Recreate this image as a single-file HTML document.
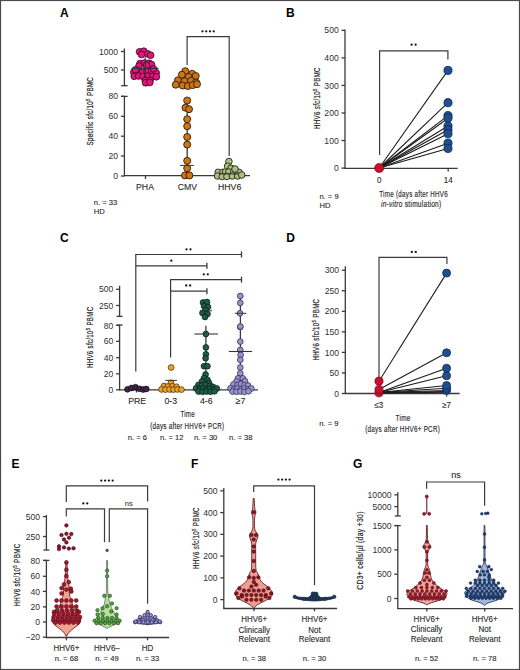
<!DOCTYPE html><html><head><meta charset="utf-8"><style>html,body{margin:0;padding:0;background:#fff;width:520px;height:670px;overflow:hidden}svg{display:block;font-family:"Liberation Sans",sans-serif}</style></head><body><svg width="520" height="670" viewBox="0 0 520 670" font-family="Liberation Sans, sans-serif">
<rect x="0" y="0" width="520" height="670" fill="#fff"/>
<rect x="0.5" y="0.5" width="519" height="669" fill="none" stroke="#4a4a4a" stroke-width="1.2"/>
<text transform="translate(64.35,16.57) scale(1.0,1)" font-size="12" text-anchor="middle" fill="#000" stroke="#000" stroke-width="0.0" font-weight="bold">A</text>
<line x1="124.40" y1="48.50" x2="124.40" y2="85.70" stroke="#3a3a3a" stroke-width="1.3"/>
<line x1="121.20" y1="85.70" x2="127.60" y2="85.70" stroke="#3a3a3a" stroke-width="1.3"/>
<line x1="124.40" y1="96.40" x2="124.40" y2="176.30" stroke="#3a3a3a" stroke-width="1.3"/>
<line x1="123.90" y1="175.70" x2="250.00" y2="175.70" stroke="#3a3a3a" stroke-width="1.3"/>
<line x1="120.90" y1="51.50" x2="124.40" y2="51.50" stroke="#3a3a3a" stroke-width="1.3"/>
<text transform="translate(118.10,54.60) scale(1.0,1)" font-size="8.6" text-anchor="end" fill="#2f2f2f" stroke="#2f2f2f" stroke-width="0.0">1000</text>
<line x1="120.90" y1="70.00" x2="124.40" y2="70.00" stroke="#3a3a3a" stroke-width="1.3"/>
<text transform="translate(118.10,73.10) scale(1.0,1)" font-size="8.6" text-anchor="end" fill="#2f2f2f" stroke="#2f2f2f" stroke-width="0.0">500</text>
<line x1="121.20" y1="96.40" x2="127.60" y2="96.40" stroke="#3a3a3a" stroke-width="1.3"/>
<line x1="120.90" y1="96.30" x2="124.40" y2="96.30" stroke="#3a3a3a" stroke-width="1.3"/>
<text transform="translate(118.10,99.40) scale(1.0,1)" font-size="8.6" text-anchor="end" fill="#2f2f2f" stroke="#2f2f2f" stroke-width="0.0">80</text>
<line x1="120.90" y1="116.30" x2="124.40" y2="116.30" stroke="#3a3a3a" stroke-width="1.3"/>
<text transform="translate(118.10,119.40) scale(1.0,1)" font-size="8.6" text-anchor="end" fill="#2f2f2f" stroke="#2f2f2f" stroke-width="0.0">60</text>
<line x1="120.90" y1="136.20" x2="124.40" y2="136.20" stroke="#3a3a3a" stroke-width="1.3"/>
<text transform="translate(118.10,139.30) scale(1.0,1)" font-size="8.6" text-anchor="end" fill="#2f2f2f" stroke="#2f2f2f" stroke-width="0.0">40</text>
<line x1="120.90" y1="156.00" x2="124.40" y2="156.00" stroke="#3a3a3a" stroke-width="1.3"/>
<text transform="translate(118.10,159.10) scale(1.0,1)" font-size="8.6" text-anchor="end" fill="#2f2f2f" stroke="#2f2f2f" stroke-width="0.0">20</text>
<line x1="120.90" y1="176.00" x2="124.40" y2="176.00" stroke="#3a3a3a" stroke-width="1.3"/>
<text transform="translate(118.10,179.10) scale(1.0,1)" font-size="8.6" text-anchor="end" fill="#2f2f2f" stroke="#2f2f2f" stroke-width="0.0">0</text>
<line x1="145.50" y1="176.00" x2="145.50" y2="179.00" stroke="#3a3a3a" stroke-width="1.3"/>
<line x1="187.20" y1="176.00" x2="187.20" y2="179.00" stroke="#3a3a3a" stroke-width="1.3"/>
<line x1="229.20" y1="176.00" x2="229.20" y2="179.00" stroke="#3a3a3a" stroke-width="1.3"/>
<text transform="translate(145.00,190.08) scale(0.96,1)" font-size="9.1" text-anchor="middle" fill="#2a2a2a" stroke="#2a2a2a" stroke-width="0.12">PHA</text>
<text transform="translate(187.40,190.08) scale(0.96,1)" font-size="9.1" text-anchor="middle" fill="#2a2a2a" stroke="#2a2a2a" stroke-width="0.12">CMV</text>
<text transform="translate(229.60,190.08) scale(0.96,1)" font-size="9.1" text-anchor="middle" fill="#2a2a2a" stroke="#2a2a2a" stroke-width="0.12">HHV6</text>
<text transform="translate(93.43,111.20) rotate(-90) scale(0.711,1)" font-size="8.7" letter-spacing="0.45" text-anchor="middle" fill="#2a2a2a" stroke="#2a2a2a" stroke-width="0.22"><tspan>Specific sfc/10</tspan><tspan font-size="6.26" dy="-2.96">5</tspan><tspan dy="2.96"> PBMC</tspan></text>
<text transform="translate(93.80,205.24) scale(1.0,1)" font-size="7.6" text-anchor="start" fill="#2a2a2a" stroke="#2a2a2a" stroke-width="0.12">n. = 33</text>
<text transform="translate(93.80,213.94) scale(1.0,1)" font-size="7.6" text-anchor="start" fill="#2a2a2a" stroke="#2a2a2a" stroke-width="0.12">HD</text>
<polyline points="187.10,65.00 187.10,36.70 229.20,36.70 229.20,156.00" fill="none" stroke="#3a3a3a" stroke-width="1.2" stroke-linejoin="miter"/>
<circle cx="202.47" cy="31.30" r="1.15" fill="#151515"/>
<circle cx="206.22" cy="31.30" r="1.15" fill="#151515"/>
<circle cx="209.97" cy="31.30" r="1.15" fill="#151515"/>
<circle cx="213.72" cy="31.30" r="1.15" fill="#151515"/>
<circle cx="139.50" cy="51.80" r="3.35" fill="#e0167c" stroke="#3a0520" stroke-width="0.8"/>
<circle cx="143.80" cy="51.20" r="3.35" fill="#e0167c" stroke="#3a0520" stroke-width="0.8"/>
<circle cx="147.80" cy="53.80" r="3.35" fill="#e0167c" stroke="#3a0520" stroke-width="0.8"/>
<circle cx="150.60" cy="55.20" r="3.35" fill="#e0167c" stroke="#3a0520" stroke-width="0.8"/>
<circle cx="141.50" cy="54.50" r="3.35" fill="#e0167c" stroke="#3a0520" stroke-width="0.8"/>
<circle cx="140.00" cy="63.50" r="3.35" fill="#e0167c" stroke="#3a0520" stroke-width="0.8"/>
<circle cx="144.50" cy="63.00" r="3.35" fill="#e0167c" stroke="#3a0520" stroke-width="0.8"/>
<circle cx="149.00" cy="63.20" r="3.35" fill="#e0167c" stroke="#3a0520" stroke-width="0.8"/>
<circle cx="151.50" cy="64.50" r="3.35" fill="#e0167c" stroke="#3a0520" stroke-width="0.8"/>
<circle cx="139.00" cy="66.00" r="3.35" fill="#e0167c" stroke="#3a0520" stroke-width="0.8"/>
<circle cx="146.50" cy="65.50" r="3.35" fill="#e0167c" stroke="#3a0520" stroke-width="0.8"/>
<circle cx="133.80" cy="72.30" r="3.35" fill="#e0167c" stroke="#3a0520" stroke-width="0.8"/>
<circle cx="138.20" cy="71.00" r="3.35" fill="#e0167c" stroke="#3a0520" stroke-width="0.8"/>
<circle cx="142.60" cy="72.00" r="3.35" fill="#e0167c" stroke="#3a0520" stroke-width="0.8"/>
<circle cx="147.20" cy="71.30" r="3.35" fill="#e0167c" stroke="#3a0520" stroke-width="0.8"/>
<circle cx="151.70" cy="71.00" r="3.35" fill="#e0167c" stroke="#3a0520" stroke-width="0.8"/>
<circle cx="156.20" cy="72.80" r="3.35" fill="#e0167c" stroke="#3a0520" stroke-width="0.8"/>
<circle cx="135.50" cy="69.80" r="3.35" fill="#e0167c" stroke="#3a0520" stroke-width="0.8"/>
<circle cx="153.50" cy="68.80" r="3.35" fill="#e0167c" stroke="#3a0520" stroke-width="0.8"/>
<circle cx="134.20" cy="76.30" r="3.35" fill="#e0167c" stroke="#3a0520" stroke-width="0.8"/>
<circle cx="138.60" cy="76.00" r="3.35" fill="#e0167c" stroke="#3a0520" stroke-width="0.8"/>
<circle cx="143.10" cy="76.50" r="3.35" fill="#e0167c" stroke="#3a0520" stroke-width="0.8"/>
<circle cx="148.00" cy="76.00" r="3.35" fill="#e0167c" stroke="#3a0520" stroke-width="0.8"/>
<circle cx="152.60" cy="76.40" r="3.35" fill="#e0167c" stroke="#3a0520" stroke-width="0.8"/>
<circle cx="156.40" cy="76.80" r="3.35" fill="#e0167c" stroke="#3a0520" stroke-width="0.8"/>
<circle cx="145.30" cy="80.50" r="3.35" fill="#e0167c" stroke="#3a0520" stroke-width="0.8"/>
<circle cx="150.00" cy="80.50" r="3.35" fill="#e0167c" stroke="#3a0520" stroke-width="0.8"/>
<circle cx="145.50" cy="82.80" r="3.35" fill="#e0167c" stroke="#3a0520" stroke-width="0.8"/>
<circle cx="149.80" cy="82.50" r="3.35" fill="#e0167c" stroke="#3a0520" stroke-width="0.8"/>
<line x1="131.40" y1="68.40" x2="158.60" y2="68.40" stroke="#333" stroke-width="1.1"/>
<line x1="145.20" y1="57.00" x2="145.20" y2="78.00" stroke="#333" stroke-width="1.1"/>
<circle cx="185.30" cy="71.20" r="3.5" fill="#cc7619" stroke="#2e1a04" stroke-width="0.9"/>
<circle cx="181.90" cy="74.70" r="3.5" fill="#cc7619" stroke="#2e1a04" stroke-width="0.9"/>
<circle cx="192.20" cy="73.80" r="3.5" fill="#cc7619" stroke="#2e1a04" stroke-width="0.9"/>
<circle cx="195.70" cy="76.00" r="3.5" fill="#cc7619" stroke="#2e1a04" stroke-width="0.9"/>
<circle cx="188.50" cy="77.00" r="3.5" fill="#cc7619" stroke="#2e1a04" stroke-width="0.9"/>
<circle cx="178.00" cy="80.30" r="3.5" fill="#cc7619" stroke="#2e1a04" stroke-width="0.9"/>
<circle cx="184.50" cy="81.20" r="3.5" fill="#cc7619" stroke="#2e1a04" stroke-width="0.9"/>
<circle cx="191.00" cy="80.80" r="3.5" fill="#cc7619" stroke="#2e1a04" stroke-width="0.9"/>
<circle cx="196.10" cy="82.50" r="3.5" fill="#cc7619" stroke="#2e1a04" stroke-width="0.9"/>
<circle cx="175.80" cy="84.70" r="3.5" fill="#cc7619" stroke="#2e1a04" stroke-width="0.9"/>
<circle cx="182.70" cy="85.50" r="3.5" fill="#cc7619" stroke="#2e1a04" stroke-width="0.9"/>
<circle cx="187.80" cy="86.00" r="3.5" fill="#cc7619" stroke="#2e1a04" stroke-width="0.9"/>
<circle cx="192.70" cy="85.10" r="3.5" fill="#cc7619" stroke="#2e1a04" stroke-width="0.9"/>
<circle cx="197.00" cy="84.20" r="3.5" fill="#cc7619" stroke="#2e1a04" stroke-width="0.9"/>
<line x1="187.20" y1="100.00" x2="187.20" y2="176.00" stroke="#3a3a3a" stroke-width="1.3"/>
<circle cx="187.20" cy="100.50" r="3.5" fill="#cc7619" stroke="#2e1a04" stroke-width="0.9"/>
<circle cx="185.50" cy="107.70" r="3.5" fill="#cc7619" stroke="#2e1a04" stroke-width="0.9"/>
<circle cx="189.00" cy="109.20" r="3.5" fill="#cc7619" stroke="#2e1a04" stroke-width="0.9"/>
<circle cx="187.20" cy="119.20" r="3.5" fill="#cc7619" stroke="#2e1a04" stroke-width="0.9"/>
<circle cx="187.20" cy="126.20" r="3.5" fill="#cc7619" stroke="#2e1a04" stroke-width="0.9"/>
<circle cx="187.20" cy="137.00" r="3.5" fill="#cc7619" stroke="#2e1a04" stroke-width="0.9"/>
<circle cx="187.20" cy="144.60" r="3.5" fill="#cc7619" stroke="#2e1a04" stroke-width="0.9"/>
<circle cx="187.20" cy="160.80" r="3.5" fill="#cc7619" stroke="#2e1a04" stroke-width="0.9"/>
<circle cx="187.20" cy="168.20" r="3.5" fill="#cc7619" stroke="#2e1a04" stroke-width="0.9"/>
<circle cx="185.00" cy="175.40" r="3.5" fill="#cc7619" stroke="#2e1a04" stroke-width="0.9"/>
<circle cx="189.40" cy="175.40" r="3.5" fill="#cc7619" stroke="#2e1a04" stroke-width="0.9"/>
<line x1="180.00" y1="165.40" x2="193.80" y2="165.40" stroke="#333" stroke-width="1.0"/>
<circle cx="228.90" cy="161.50" r="3.3" fill="#aebf86" stroke="#1e2812" stroke-width="0.9"/>
<circle cx="227.60" cy="166.20" r="3.3" fill="#aebf86" stroke="#1e2812" stroke-width="0.9"/>
<circle cx="231.00" cy="168.30" r="3.3" fill="#aebf86" stroke="#1e2812" stroke-width="0.9"/>
<circle cx="218.20" cy="172.30" r="3.3" fill="#aebf86" stroke="#1e2812" stroke-width="0.9"/>
<circle cx="222.90" cy="172.30" r="3.3" fill="#aebf86" stroke="#1e2812" stroke-width="0.9"/>
<circle cx="225.60" cy="172.00" r="3.3" fill="#aebf86" stroke="#1e2812" stroke-width="0.9"/>
<circle cx="228.90" cy="172.00" r="3.3" fill="#aebf86" stroke="#1e2812" stroke-width="0.9"/>
<circle cx="233.60" cy="172.00" r="3.3" fill="#aebf86" stroke="#1e2812" stroke-width="0.9"/>
<circle cx="239.00" cy="172.30" r="3.3" fill="#aebf86" stroke="#1e2812" stroke-width="0.9"/>
<circle cx="217.50" cy="176.00" r="3.3" fill="#aebf86" stroke="#1e2812" stroke-width="0.9"/>
<circle cx="222.20" cy="176.50" r="3.3" fill="#aebf86" stroke="#1e2812" stroke-width="0.9"/>
<circle cx="226.90" cy="176.50" r="3.3" fill="#aebf86" stroke="#1e2812" stroke-width="0.9"/>
<circle cx="232.30" cy="176.00" r="3.3" fill="#aebf86" stroke="#1e2812" stroke-width="0.9"/>
<circle cx="237.70" cy="176.00" r="3.3" fill="#aebf86" stroke="#1e2812" stroke-width="0.9"/>
<circle cx="241.70" cy="175.00" r="3.3" fill="#aebf86" stroke="#1e2812" stroke-width="0.9"/>
<circle cx="235.00" cy="169.00" r="3.3" fill="#aebf86" stroke="#1e2812" stroke-width="0.9"/>
<line x1="220.00" y1="174.00" x2="238.00" y2="174.00" stroke="#333" stroke-width="0.9"/>
<text transform="translate(290.30,16.57) scale(1.0,1)" font-size="12" text-anchor="middle" fill="#000" stroke="#000" stroke-width="0.0" font-weight="bold">B</text>
<line x1="345.00" y1="29.50" x2="345.00" y2="168.50" stroke="#3a3a3a" stroke-width="1.3"/>
<line x1="344.50" y1="168.30" x2="457.70" y2="168.30" stroke="#3a3a3a" stroke-width="1.3"/>
<line x1="341.50" y1="30.30" x2="345.00" y2="30.30" stroke="#3a3a3a" stroke-width="1.3"/>
<text transform="translate(338.70,33.40) scale(1.0,1)" font-size="8.6" text-anchor="end" fill="#2f2f2f" stroke="#2f2f2f" stroke-width="0.0">500</text>
<line x1="341.50" y1="57.86" x2="345.00" y2="57.86" stroke="#3a3a3a" stroke-width="1.3"/>
<text transform="translate(338.70,60.96) scale(1.0,1)" font-size="8.6" text-anchor="end" fill="#2f2f2f" stroke="#2f2f2f" stroke-width="0.0">400</text>
<line x1="341.50" y1="85.42" x2="345.00" y2="85.42" stroke="#3a3a3a" stroke-width="1.3"/>
<text transform="translate(338.70,88.52) scale(1.0,1)" font-size="8.6" text-anchor="end" fill="#2f2f2f" stroke="#2f2f2f" stroke-width="0.0">300</text>
<line x1="341.50" y1="112.98" x2="345.00" y2="112.98" stroke="#3a3a3a" stroke-width="1.3"/>
<text transform="translate(338.70,116.08) scale(1.0,1)" font-size="8.6" text-anchor="end" fill="#2f2f2f" stroke="#2f2f2f" stroke-width="0.0">200</text>
<line x1="341.50" y1="140.54" x2="345.00" y2="140.54" stroke="#3a3a3a" stroke-width="1.3"/>
<text transform="translate(338.70,143.64) scale(1.0,1)" font-size="8.6" text-anchor="end" fill="#2f2f2f" stroke="#2f2f2f" stroke-width="0.0">100</text>
<line x1="341.50" y1="168.10" x2="345.00" y2="168.10" stroke="#3a3a3a" stroke-width="1.3"/>
<text transform="translate(338.70,171.20) scale(1.0,1)" font-size="8.6" text-anchor="end" fill="#2f2f2f" stroke="#2f2f2f" stroke-width="0.0">0</text>
<line x1="379.20" y1="168.00" x2="379.20" y2="171.50" stroke="#3a3a3a" stroke-width="1.3"/>
<line x1="448.20" y1="168.00" x2="448.20" y2="171.50" stroke="#3a3a3a" stroke-width="1.3"/>
<text transform="translate(379.20,183.10) scale(0.93,1)" font-size="8.6" text-anchor="middle" fill="#2a2a2a" stroke="#2a2a2a" stroke-width="0.12">0</text>
<text transform="translate(448.20,183.10) scale(0.93,1)" font-size="8.6" text-anchor="middle" fill="#2a2a2a" stroke="#2a2a2a" stroke-width="0.12">14</text>
<text transform="translate(319.83,98.00) rotate(-90) scale(0.707,1)" font-size="8.7" letter-spacing="0.45" text-anchor="middle" fill="#2a2a2a" stroke="#2a2a2a" stroke-width="0.22"><tspan>HHV6 </tspan><tspan font-style="italic">sfc</tspan><tspan>/10</tspan><tspan font-size="6.26" dy="-2.96">5</tspan><tspan dy="2.96"> PBMC</tspan></text>
<text transform="translate(413.63,197.08) scale(0.664,1)" font-size="9.4" letter-spacing="0.4" text-anchor="middle" fill="#2a2a2a" stroke="#2a2a2a" stroke-width="0.18">Time (days after HHV6</text>
<text transform="translate(411.2,207.08) scale(0.695,1)" font-size="9.4" letter-spacing="0.4" text-anchor="middle" fill="#2a2a2a" stroke="#2a2a2a" stroke-width="0.18"><tspan font-style="italic">in-vitro</tspan> stimulation)</text>
<text transform="translate(319.40,199.24) scale(1.0,1)" font-size="7.6" text-anchor="start" fill="#2a2a2a" stroke="#2a2a2a" stroke-width="0.12">n. = 9</text>
<text transform="translate(319.40,208.24) scale(1.0,1)" font-size="7.6" text-anchor="start" fill="#2a2a2a" stroke="#2a2a2a" stroke-width="0.12">HD</text>
<polyline points="379.60,155.00 379.60,50.80 447.90,50.80 447.90,59.40" fill="none" stroke="#3a3a3a" stroke-width="1.2" stroke-linejoin="miter"/>
<circle cx="411.60" cy="44.70" r="1.15" fill="#151515"/>
<circle cx="415.60" cy="44.70" r="1.15" fill="#151515"/>
<line x1="379.20" y1="168.00" x2="448.00" y2="70.40" stroke="#1a1a1a" stroke-width="1.05"/>
<line x1="379.20" y1="168.00" x2="448.00" y2="102.70" stroke="#1a1a1a" stroke-width="1.05"/>
<line x1="379.20" y1="168.00" x2="448.00" y2="115.60" stroke="#1a1a1a" stroke-width="1.05"/>
<line x1="379.20" y1="168.00" x2="448.00" y2="118.20" stroke="#1a1a1a" stroke-width="1.05"/>
<line x1="379.20" y1="168.00" x2="448.00" y2="126.00" stroke="#1a1a1a" stroke-width="1.05"/>
<line x1="379.20" y1="168.00" x2="448.00" y2="129.70" stroke="#1a1a1a" stroke-width="1.05"/>
<line x1="379.20" y1="168.00" x2="448.00" y2="133.80" stroke="#1a1a1a" stroke-width="1.05"/>
<line x1="379.20" y1="168.00" x2="448.00" y2="143.20" stroke="#1a1a1a" stroke-width="1.05"/>
<line x1="379.20" y1="168.00" x2="448.00" y2="148.50" stroke="#1a1a1a" stroke-width="1.05"/>
<circle cx="379.20" cy="168.00" r="4.6" fill="#c8102e" stroke="#6a0010" stroke-width="0.6"/>
<circle cx="448.00" cy="70.40" r="4.1" fill="#1f4f8f" stroke="#0a2345" stroke-width="0.7"/>
<circle cx="448.00" cy="102.70" r="4.1" fill="#1f4f8f" stroke="#0a2345" stroke-width="0.7"/>
<circle cx="448.00" cy="115.60" r="4.1" fill="#1f4f8f" stroke="#0a2345" stroke-width="0.7"/>
<circle cx="448.00" cy="118.20" r="4.1" fill="#1f4f8f" stroke="#0a2345" stroke-width="0.7"/>
<circle cx="448.00" cy="126.00" r="4.1" fill="#1f4f8f" stroke="#0a2345" stroke-width="0.7"/>
<circle cx="448.00" cy="129.70" r="4.1" fill="#1f4f8f" stroke="#0a2345" stroke-width="0.7"/>
<circle cx="448.00" cy="133.80" r="4.1" fill="#1f4f8f" stroke="#0a2345" stroke-width="0.7"/>
<circle cx="448.00" cy="143.20" r="4.1" fill="#1f4f8f" stroke="#0a2345" stroke-width="0.7"/>
<circle cx="448.00" cy="148.50" r="4.1" fill="#1f4f8f" stroke="#0a2345" stroke-width="0.7"/>
<text transform="translate(64.25,242.17) scale(1.0,1)" font-size="12" text-anchor="middle" fill="#000" stroke="#000" stroke-width="0.0" font-weight="bold">C</text>
<line x1="119.60" y1="285.80" x2="119.60" y2="316.40" stroke="#3a3a3a" stroke-width="1.3"/>
<line x1="116.60" y1="316.40" x2="122.60" y2="316.40" stroke="#3a3a3a" stroke-width="1.3"/>
<line x1="119.60" y1="325.00" x2="119.60" y2="390.30" stroke="#3a3a3a" stroke-width="1.3"/>
<line x1="116.60" y1="325.00" x2="122.60" y2="325.00" stroke="#3a3a3a" stroke-width="1.3"/>
<line x1="119.10" y1="389.90" x2="258.00" y2="389.90" stroke="#3a3a3a" stroke-width="1.3"/>
<line x1="116.10" y1="289.30" x2="119.60" y2="289.30" stroke="#3a3a3a" stroke-width="1.3"/>
<text transform="translate(113.30,292.40) scale(1.0,1)" font-size="8.6" text-anchor="end" fill="#2f2f2f" stroke="#2f2f2f" stroke-width="0.0">500</text>
<line x1="116.10" y1="305.50" x2="119.60" y2="305.50" stroke="#3a3a3a" stroke-width="1.3"/>
<text transform="translate(113.30,308.60) scale(1.0,1)" font-size="8.6" text-anchor="end" fill="#2f2f2f" stroke="#2f2f2f" stroke-width="0.0">250</text>
<line x1="116.10" y1="325.40" x2="119.60" y2="325.40" stroke="#3a3a3a" stroke-width="1.3"/>
<text transform="translate(113.30,328.50) scale(1.0,1)" font-size="8.6" text-anchor="end" fill="#2f2f2f" stroke="#2f2f2f" stroke-width="0.0">80</text>
<line x1="116.10" y1="341.30" x2="119.60" y2="341.30" stroke="#3a3a3a" stroke-width="1.3"/>
<text transform="translate(113.30,344.40) scale(1.0,1)" font-size="8.6" text-anchor="end" fill="#2f2f2f" stroke="#2f2f2f" stroke-width="0.0">60</text>
<line x1="116.10" y1="357.70" x2="119.60" y2="357.70" stroke="#3a3a3a" stroke-width="1.3"/>
<text transform="translate(113.30,360.80) scale(1.0,1)" font-size="8.6" text-anchor="end" fill="#2f2f2f" stroke="#2f2f2f" stroke-width="0.0">40</text>
<line x1="116.10" y1="373.80" x2="119.60" y2="373.80" stroke="#3a3a3a" stroke-width="1.3"/>
<text transform="translate(113.30,376.90) scale(1.0,1)" font-size="8.6" text-anchor="end" fill="#2f2f2f" stroke="#2f2f2f" stroke-width="0.0">20</text>
<line x1="116.10" y1="389.80" x2="119.60" y2="389.80" stroke="#3a3a3a" stroke-width="1.3"/>
<text transform="translate(113.30,392.90) scale(1.0,1)" font-size="8.6" text-anchor="end" fill="#2f2f2f" stroke="#2f2f2f" stroke-width="0.0">0</text>
<line x1="136.50" y1="389.90" x2="136.50" y2="392.50" stroke="#3a3a3a" stroke-width="1.3"/>
<line x1="171.00" y1="389.90" x2="171.00" y2="392.50" stroke="#3a3a3a" stroke-width="1.3"/>
<line x1="205.90" y1="389.90" x2="205.90" y2="392.50" stroke="#3a3a3a" stroke-width="1.3"/>
<line x1="240.40" y1="389.90" x2="240.40" y2="392.50" stroke="#3a3a3a" stroke-width="1.3"/>
<text transform="translate(137.20,404.28) scale(0.96,1)" font-size="9.1" text-anchor="middle" fill="#2a2a2a" stroke="#2a2a2a" stroke-width="0.12">PRE</text>
<text transform="translate(170.80,404.28) scale(0.96,1)" font-size="9.1" text-anchor="middle" fill="#2a2a2a" stroke="#2a2a2a" stroke-width="0.12">0-3</text>
<text transform="translate(206.20,404.28) scale(0.96,1)" font-size="9.1" text-anchor="middle" fill="#2a2a2a" stroke="#2a2a2a" stroke-width="0.12">4-6</text>
<text transform="translate(240.50,404.28) scale(0.96,1)" font-size="9.1" text-anchor="middle" fill="#2a2a2a" stroke="#2a2a2a" stroke-width="0.12">≥7</text>
<text transform="translate(92.63,337.30) rotate(-90) scale(0.702,1)" font-size="8.7" letter-spacing="0.45" text-anchor="middle" fill="#2a2a2a" stroke="#2a2a2a" stroke-width="0.22"><tspan>HHV6 sfc/10</tspan><tspan font-size="6.26" dy="-2.96">5</tspan><tspan dy="2.96"> PBMC</tspan></text>
<text transform="translate(187.63,417.31) scale(0.667,1)" font-size="9.2" letter-spacing="0.4" text-anchor="middle" fill="#2a2a2a" stroke="#2a2a2a" stroke-width="0.18">Time</text>
<text transform="translate(187.24,429.11) scale(0.677,1)" font-size="9.2" letter-spacing="0.4" text-anchor="middle" fill="#2a2a2a" stroke="#2a2a2a" stroke-width="0.18">(days after HHV6+ PCR)</text>
<text transform="translate(127.70,440.24) scale(1.0,1)" font-size="7.6" text-anchor="start" fill="#2a2a2a" stroke="#2a2a2a" stroke-width="0.12">n. = 6</text>
<text transform="translate(160.00,440.24) scale(1.0,1)" font-size="7.6" text-anchor="start" fill="#2a2a2a" stroke="#2a2a2a" stroke-width="0.12">n. = 12</text>
<text transform="translate(193.90,440.24) scale(1.0,1)" font-size="7.6" text-anchor="start" fill="#2a2a2a" stroke="#2a2a2a" stroke-width="0.12">n. = 30</text>
<text transform="translate(229.00,440.24) scale(1.0,1)" font-size="7.6" text-anchor="start" fill="#2a2a2a" stroke="#2a2a2a" stroke-width="0.12">n. = 38</text>
<polyline points="135.80,371.50 135.80,254.50 241.50,254.50" fill="none" stroke="#3a3a3a" stroke-width="1.2" stroke-linejoin="miter"/>
<line x1="241.50" y1="251.50" x2="241.50" y2="257.50" stroke="#3a3a3a" stroke-width="1.3"/>
<line x1="135.80" y1="265.80" x2="206.90" y2="265.80" stroke="#3a3a3a" stroke-width="1.3"/>
<line x1="206.90" y1="262.80" x2="206.90" y2="268.80" stroke="#3a3a3a" stroke-width="1.3"/>
<polyline points="170.60,357.50 170.60,279.70 241.50,279.70" fill="none" stroke="#3a3a3a" stroke-width="1.2" stroke-linejoin="miter"/>
<line x1="241.50" y1="276.70" x2="241.50" y2="282.70" stroke="#3a3a3a" stroke-width="1.3"/>
<line x1="170.60" y1="291.20" x2="206.90" y2="291.20" stroke="#3a3a3a" stroke-width="1.3"/>
<line x1="206.90" y1="288.20" x2="206.90" y2="294.20" stroke="#3a3a3a" stroke-width="1.3"/>
<circle cx="186.50" cy="249.30" r="1.15" fill="#151515"/>
<circle cx="190.50" cy="249.30" r="1.15" fill="#151515"/>
<circle cx="171.30" cy="260.70" r="1.15" fill="#151515"/>
<circle cx="203.80" cy="274.30" r="1.15" fill="#151515"/>
<circle cx="207.80" cy="274.30" r="1.15" fill="#151515"/>
<circle cx="186.25" cy="285.50" r="1.15" fill="#151515"/>
<circle cx="190.15" cy="285.50" r="1.15" fill="#151515"/>
<circle cx="127.50" cy="389.30" r="2.9" fill="#3e2342" stroke="#1a0a1c" stroke-width="0.7"/>
<circle cx="131.50" cy="388.00" r="2.9" fill="#3e2342" stroke="#1a0a1c" stroke-width="0.7"/>
<circle cx="135.50" cy="387.20" r="2.9" fill="#3e2342" stroke="#1a0a1c" stroke-width="0.7"/>
<circle cx="139.50" cy="388.80" r="2.9" fill="#3e2342" stroke="#1a0a1c" stroke-width="0.7"/>
<circle cx="143.20" cy="389.50" r="2.9" fill="#3e2342" stroke="#1a0a1c" stroke-width="0.7"/>
<circle cx="146.30" cy="389.00" r="2.9" fill="#3e2342" stroke="#1a0a1c" stroke-width="0.7"/>
<circle cx="171.10" cy="367.50" r="2.9" fill="#eda12a" stroke="#3a2503" stroke-width="0.7"/>
<circle cx="171.00" cy="382.80" r="2.9" fill="#eda12a" stroke="#3a2503" stroke-width="0.7"/>
<circle cx="164.00" cy="386.00" r="2.9" fill="#eda12a" stroke="#3a2503" stroke-width="0.7"/>
<circle cx="168.00" cy="386.50" r="2.9" fill="#eda12a" stroke="#3a2503" stroke-width="0.7"/>
<circle cx="172.50" cy="386.20" r="2.9" fill="#eda12a" stroke="#3a2503" stroke-width="0.7"/>
<circle cx="176.50" cy="386.80" r="2.9" fill="#eda12a" stroke="#3a2503" stroke-width="0.7"/>
<circle cx="161.50" cy="389.40" r="2.9" fill="#eda12a" stroke="#3a2503" stroke-width="0.7"/>
<circle cx="165.50" cy="389.60" r="2.9" fill="#eda12a" stroke="#3a2503" stroke-width="0.7"/>
<circle cx="169.50" cy="389.40" r="2.9" fill="#eda12a" stroke="#3a2503" stroke-width="0.7"/>
<circle cx="173.50" cy="389.60" r="2.9" fill="#eda12a" stroke="#3a2503" stroke-width="0.7"/>
<circle cx="177.50" cy="389.40" r="2.9" fill="#eda12a" stroke="#3a2503" stroke-width="0.7"/>
<circle cx="181.50" cy="389.60" r="2.9" fill="#eda12a" stroke="#3a2503" stroke-width="0.7"/>
<line x1="165.40" y1="380.40" x2="176.90" y2="380.40" stroke="#333" stroke-width="1.0"/>
<line x1="205.90" y1="325.80" x2="205.90" y2="389.00" stroke="#3a3a3a" stroke-width="1.3"/>
<circle cx="203.00" cy="302.50" r="2.9" fill="#1d5d48" stroke="#06180f" stroke-width="0.7"/>
<circle cx="207.00" cy="302.00" r="2.9" fill="#1d5d48" stroke="#06180f" stroke-width="0.7"/>
<circle cx="204.00" cy="306.00" r="2.9" fill="#1d5d48" stroke="#06180f" stroke-width="0.7"/>
<circle cx="208.00" cy="307.00" r="2.9" fill="#1d5d48" stroke="#06180f" stroke-width="0.7"/>
<circle cx="205.50" cy="310.00" r="2.9" fill="#1d5d48" stroke="#06180f" stroke-width="0.7"/>
<circle cx="202.50" cy="313.00" r="2.9" fill="#1d5d48" stroke="#06180f" stroke-width="0.7"/>
<circle cx="207.50" cy="314.00" r="2.9" fill="#1d5d48" stroke="#06180f" stroke-width="0.7"/>
<circle cx="205.00" cy="317.00" r="2.9" fill="#1d5d48" stroke="#06180f" stroke-width="0.7"/>
<line x1="200.20" y1="310.80" x2="212.10" y2="310.80" stroke="#333" stroke-width="1.0"/>
<line x1="194.40" y1="334.00" x2="217.90" y2="334.00" stroke="#333" stroke-width="1.1"/>
<circle cx="205.90" cy="334.00" r="2.9" fill="#1d5d48" stroke="#06180f" stroke-width="0.7"/>
<circle cx="205.90" cy="347.40" r="2.9" fill="#1d5d48" stroke="#06180f" stroke-width="0.7"/>
<circle cx="205.90" cy="354.30" r="2.9" fill="#1d5d48" stroke="#06180f" stroke-width="0.7"/>
<circle cx="205.60" cy="358.20" r="2.9" fill="#1d5d48" stroke="#06180f" stroke-width="0.7"/>
<circle cx="204.00" cy="366.20" r="2.9" fill="#1d5d48" stroke="#06180f" stroke-width="0.7"/>
<circle cx="207.40" cy="366.20" r="2.9" fill="#1d5d48" stroke="#06180f" stroke-width="0.7"/>
<circle cx="205.60" cy="374.40" r="2.9" fill="#1d5d48" stroke="#06180f" stroke-width="0.7"/>
<circle cx="204.00" cy="378.10" r="2.9" fill="#1d5d48" stroke="#06180f" stroke-width="0.7"/>
<circle cx="207.50" cy="379.80" r="2.9" fill="#1d5d48" stroke="#06180f" stroke-width="0.7"/>
<circle cx="202.00" cy="381.50" r="2.9" fill="#1d5d48" stroke="#06180f" stroke-width="0.7"/>
<circle cx="209.00" cy="382.80" r="2.9" fill="#1d5d48" stroke="#06180f" stroke-width="0.7"/>
<circle cx="198.50" cy="384.80" r="2.9" fill="#1d5d48" stroke="#06180f" stroke-width="0.7"/>
<circle cx="202.00" cy="385.50" r="2.9" fill="#1d5d48" stroke="#06180f" stroke-width="0.7"/>
<circle cx="205.50" cy="384.80" r="2.9" fill="#1d5d48" stroke="#06180f" stroke-width="0.7"/>
<circle cx="210.00" cy="385.80" r="2.9" fill="#1d5d48" stroke="#06180f" stroke-width="0.7"/>
<circle cx="213.00" cy="386.80" r="2.9" fill="#1d5d48" stroke="#06180f" stroke-width="0.7"/>
<circle cx="196.00" cy="388.30" r="2.9" fill="#1d5d48" stroke="#06180f" stroke-width="0.7"/>
<circle cx="199.50" cy="389.30" r="2.9" fill="#1d5d48" stroke="#06180f" stroke-width="0.7"/>
<circle cx="203.00" cy="388.30" r="2.9" fill="#1d5d48" stroke="#06180f" stroke-width="0.7"/>
<circle cx="206.50" cy="389.30" r="2.9" fill="#1d5d48" stroke="#06180f" stroke-width="0.7"/>
<circle cx="210.00" cy="388.80" r="2.9" fill="#1d5d48" stroke="#06180f" stroke-width="0.7"/>
<circle cx="213.50" cy="389.80" r="2.9" fill="#1d5d48" stroke="#06180f" stroke-width="0.7"/>
<circle cx="216.80" cy="388.50" r="2.9" fill="#1d5d48" stroke="#06180f" stroke-width="0.7"/>
<circle cx="198.50" cy="391.50" r="2.9" fill="#1d5d48" stroke="#06180f" stroke-width="0.7"/>
<circle cx="202.50" cy="391.80" r="2.9" fill="#1d5d48" stroke="#06180f" stroke-width="0.7"/>
<circle cx="206.50" cy="391.50" r="2.9" fill="#1d5d48" stroke="#06180f" stroke-width="0.7"/>
<circle cx="210.50" cy="391.80" r="2.9" fill="#1d5d48" stroke="#06180f" stroke-width="0.7"/>
<circle cx="214.50" cy="391.30" r="2.9" fill="#1d5d48" stroke="#06180f" stroke-width="0.7"/>
<line x1="240.40" y1="296.00" x2="240.40" y2="389.00" stroke="#3a3a3a" stroke-width="1.3"/>
<circle cx="240.30" cy="296.00" r="2.9" fill="#9894ca" stroke="#2f2b58" stroke-width="0.75"/>
<circle cx="240.30" cy="302.90" r="2.9" fill="#9894ca" stroke="#2f2b58" stroke-width="0.75"/>
<circle cx="240.00" cy="313.30" r="2.9" fill="#9894ca" stroke="#2f2b58" stroke-width="0.75"/>
<circle cx="240.30" cy="327.00" r="2.9" fill="#9894ca" stroke="#2f2b58" stroke-width="0.75"/>
<line x1="234.80" y1="313.30" x2="246.30" y2="313.30" stroke="#333" stroke-width="1.0"/>
<circle cx="240.30" cy="326.50" r="2.9" fill="#9894ca" stroke="#2f2b58" stroke-width="0.75"/>
<circle cx="240.30" cy="341.60" r="2.9" fill="#9894ca" stroke="#2f2b58" stroke-width="0.75"/>
<circle cx="240.30" cy="350.00" r="2.9" fill="#9894ca" stroke="#2f2b58" stroke-width="0.75"/>
<circle cx="240.60" cy="355.00" r="2.9" fill="#9894ca" stroke="#2f2b58" stroke-width="0.75"/>
<circle cx="240.30" cy="359.80" r="2.9" fill="#9894ca" stroke="#2f2b58" stroke-width="0.75"/>
<circle cx="240.30" cy="367.50" r="2.9" fill="#9894ca" stroke="#2f2b58" stroke-width="0.75"/>
<circle cx="240.30" cy="373.30" r="2.9" fill="#9894ca" stroke="#2f2b58" stroke-width="0.75"/>
<circle cx="238.00" cy="378.30" r="2.9" fill="#9894ca" stroke="#2f2b58" stroke-width="0.75"/>
<circle cx="242.80" cy="378.30" r="2.9" fill="#9894ca" stroke="#2f2b58" stroke-width="0.75"/>
<circle cx="236.50" cy="381.50" r="2.9" fill="#9894ca" stroke="#2f2b58" stroke-width="0.75"/>
<circle cx="245.00" cy="381.20" r="2.9" fill="#9894ca" stroke="#2f2b58" stroke-width="0.75"/>
<circle cx="233.50" cy="384.50" r="2.9" fill="#9894ca" stroke="#2f2b58" stroke-width="0.75"/>
<circle cx="237.50" cy="385.00" r="2.9" fill="#9894ca" stroke="#2f2b58" stroke-width="0.75"/>
<circle cx="241.00" cy="384.00" r="2.9" fill="#9894ca" stroke="#2f2b58" stroke-width="0.75"/>
<circle cx="244.50" cy="385.20" r="2.9" fill="#9894ca" stroke="#2f2b58" stroke-width="0.75"/>
<circle cx="248.00" cy="385.50" r="2.9" fill="#9894ca" stroke="#2f2b58" stroke-width="0.75"/>
<circle cx="230.50" cy="388.30" r="2.9" fill="#9894ca" stroke="#2f2b58" stroke-width="0.75"/>
<circle cx="234.00" cy="389.30" r="2.9" fill="#9894ca" stroke="#2f2b58" stroke-width="0.75"/>
<circle cx="237.50" cy="388.30" r="2.9" fill="#9894ca" stroke="#2f2b58" stroke-width="0.75"/>
<circle cx="241.00" cy="389.30" r="2.9" fill="#9894ca" stroke="#2f2b58" stroke-width="0.75"/>
<circle cx="244.50" cy="388.50" r="2.9" fill="#9894ca" stroke="#2f2b58" stroke-width="0.75"/>
<circle cx="248.00" cy="389.50" r="2.9" fill="#9894ca" stroke="#2f2b58" stroke-width="0.75"/>
<circle cx="251.30" cy="388.50" r="2.9" fill="#9894ca" stroke="#2f2b58" stroke-width="0.75"/>
<circle cx="232.50" cy="391.50" r="2.9" fill="#9894ca" stroke="#2f2b58" stroke-width="0.75"/>
<circle cx="236.50" cy="391.80" r="2.9" fill="#9894ca" stroke="#2f2b58" stroke-width="0.75"/>
<circle cx="240.50" cy="391.50" r="2.9" fill="#9894ca" stroke="#2f2b58" stroke-width="0.75"/>
<circle cx="244.50" cy="391.80" r="2.9" fill="#9894ca" stroke="#2f2b58" stroke-width="0.75"/>
<circle cx="248.50" cy="391.30" r="2.9" fill="#9894ca" stroke="#2f2b58" stroke-width="0.75"/>
<line x1="228.80" y1="351.50" x2="252.10" y2="351.50" stroke="#333" stroke-width="1.1"/>
<text transform="translate(290.60,242.17) scale(1.0,1)" font-size="12" text-anchor="middle" fill="#000" stroke="#000" stroke-width="0.0" font-weight="bold">D</text>
<line x1="345.30" y1="266.30" x2="345.30" y2="393.80" stroke="#3a3a3a" stroke-width="1.3"/>
<line x1="344.80" y1="393.50" x2="459.70" y2="393.50" stroke="#3a3a3a" stroke-width="1.3"/>
<line x1="341.80" y1="270.20" x2="345.30" y2="270.20" stroke="#3a3a3a" stroke-width="1.3"/>
<text transform="translate(339.00,273.30) scale(1.0,1)" font-size="8.6" text-anchor="end" fill="#2f2f2f" stroke="#2f2f2f" stroke-width="0.0">300</text>
<line x1="341.80" y1="290.75" x2="345.30" y2="290.75" stroke="#3a3a3a" stroke-width="1.3"/>
<text transform="translate(339.00,293.85) scale(1.0,1)" font-size="8.6" text-anchor="end" fill="#2f2f2f" stroke="#2f2f2f" stroke-width="0.0">250</text>
<line x1="341.80" y1="311.30" x2="345.30" y2="311.30" stroke="#3a3a3a" stroke-width="1.3"/>
<text transform="translate(339.00,314.40) scale(1.0,1)" font-size="8.6" text-anchor="end" fill="#2f2f2f" stroke="#2f2f2f" stroke-width="0.0">200</text>
<line x1="341.80" y1="331.85" x2="345.30" y2="331.85" stroke="#3a3a3a" stroke-width="1.3"/>
<text transform="translate(339.00,334.95) scale(1.0,1)" font-size="8.6" text-anchor="end" fill="#2f2f2f" stroke="#2f2f2f" stroke-width="0.0">150</text>
<line x1="341.80" y1="352.40" x2="345.30" y2="352.40" stroke="#3a3a3a" stroke-width="1.3"/>
<text transform="translate(339.00,355.50) scale(1.0,1)" font-size="8.6" text-anchor="end" fill="#2f2f2f" stroke="#2f2f2f" stroke-width="0.0">100</text>
<line x1="341.80" y1="372.95" x2="345.30" y2="372.95" stroke="#3a3a3a" stroke-width="1.3"/>
<text transform="translate(339.00,376.05) scale(1.0,1)" font-size="8.6" text-anchor="end" fill="#2f2f2f" stroke="#2f2f2f" stroke-width="0.0">50</text>
<line x1="341.80" y1="393.50" x2="345.30" y2="393.50" stroke="#3a3a3a" stroke-width="1.3"/>
<text transform="translate(339.00,396.60) scale(1.0,1)" font-size="8.6" text-anchor="end" fill="#2f2f2f" stroke="#2f2f2f" stroke-width="0.0">0</text>
<line x1="379.00" y1="393.50" x2="379.00" y2="396.50" stroke="#3a3a3a" stroke-width="1.3"/>
<line x1="446.60" y1="393.50" x2="446.60" y2="396.50" stroke="#3a3a3a" stroke-width="1.3"/>
<text transform="translate(378.80,407.60) scale(0.93,1)" font-size="8.6" text-anchor="middle" fill="#2a2a2a" stroke="#2a2a2a" stroke-width="0.12">≤3</text>
<text transform="translate(446.60,407.60) scale(0.93,1)" font-size="8.6" text-anchor="middle" fill="#2a2a2a" stroke="#2a2a2a" stroke-width="0.12">≥7</text>
<text transform="translate(319.43,329.50) rotate(-90) scale(0.707,1)" font-size="8.7" letter-spacing="0.45" text-anchor="middle" fill="#2a2a2a" stroke="#2a2a2a" stroke-width="0.22"><tspan>HHV6 sfc/10</tspan><tspan font-size="6.26" dy="-2.96">5</tspan><tspan dy="2.96"> PBMC</tspan></text>
<text transform="translate(403.04,421.31) scale(0.690,1)" font-size="9.2" letter-spacing="0.4" text-anchor="middle" fill="#2a2a2a" stroke="#2a2a2a" stroke-width="0.18">Time</text>
<text transform="translate(402.64,432.11) scale(0.683,1)" font-size="9.2" letter-spacing="0.4" text-anchor="middle" fill="#2a2a2a" stroke="#2a2a2a" stroke-width="0.18">(days after HHV6+ PCR)</text>
<text transform="translate(319.20,426.04) scale(1.0,1)" font-size="7.6" text-anchor="start" fill="#2a2a2a" stroke="#2a2a2a" stroke-width="0.12">n. = 9</text>
<polyline points="379.00,377.70 379.00,257.30 446.90,257.30 446.90,264.00" fill="none" stroke="#3a3a3a" stroke-width="1.2" stroke-linejoin="miter"/>
<circle cx="411.85" cy="251.90" r="1.15" fill="#151515"/>
<circle cx="415.75" cy="251.90" r="1.15" fill="#151515"/>
<line x1="379.00" y1="381.20" x2="446.60" y2="273.10" stroke="#1a1a1a" stroke-width="1.05"/>
<line x1="379.00" y1="389.50" x2="446.60" y2="352.80" stroke="#1a1a1a" stroke-width="1.05"/>
<line x1="379.00" y1="392.50" x2="446.60" y2="368.20" stroke="#1a1a1a" stroke-width="1.05"/>
<line x1="379.00" y1="392.50" x2="446.60" y2="375.80" stroke="#1a1a1a" stroke-width="1.05"/>
<line x1="379.00" y1="392.50" x2="446.60" y2="385.50" stroke="#1a1a1a" stroke-width="1.05"/>
<line x1="379.00" y1="392.50" x2="446.60" y2="388.30" stroke="#1a1a1a" stroke-width="1.05"/>
<line x1="379.00" y1="392.50" x2="446.60" y2="390.50" stroke="#1a1a1a" stroke-width="1.05"/>
<line x1="379.00" y1="392.80" x2="446.60" y2="391.50" stroke="#1a1a1a" stroke-width="1.05"/>
<line x1="379.00" y1="393.00" x2="446.60" y2="392.30" stroke="#1a1a1a" stroke-width="1.05"/>
<circle cx="379.00" cy="392.80" r="4.1" fill="#c8102e" stroke="#6a0010" stroke-width="0.6"/>
<circle cx="379.00" cy="389.50" r="4.1" fill="#c8102e" stroke="#6a0010" stroke-width="0.6"/>
<circle cx="379.00" cy="381.20" r="4.1" fill="#c8102e" stroke="#6a0010" stroke-width="0.6"/>
<circle cx="446.60" cy="390.50" r="4.0" fill="#1f4f8f" stroke="#0a2345" stroke-width="0.7"/>
<circle cx="446.60" cy="388.30" r="4.0" fill="#1f4f8f" stroke="#0a2345" stroke-width="0.7"/>
<circle cx="446.60" cy="385.50" r="4.0" fill="#1f4f8f" stroke="#0a2345" stroke-width="0.7"/>
<circle cx="446.60" cy="375.80" r="4.0" fill="#1f4f8f" stroke="#0a2345" stroke-width="0.7"/>
<circle cx="446.60" cy="368.20" r="4.0" fill="#1f4f8f" stroke="#0a2345" stroke-width="0.7"/>
<circle cx="446.60" cy="352.80" r="4.0" fill="#1f4f8f" stroke="#0a2345" stroke-width="0.7"/>
<circle cx="446.60" cy="273.10" r="4.0" fill="#1f4f8f" stroke="#0a2345" stroke-width="0.7"/>
<text transform="translate(15.55,468.22) scale(1.0,1)" font-size="12" text-anchor="middle" fill="#000" stroke="#000" stroke-width="0.0" font-weight="bold">E</text>
<line x1="46.40" y1="515.00" x2="46.40" y2="550.00" stroke="#3a3a3a" stroke-width="1.3"/>
<line x1="43.40" y1="550.00" x2="49.40" y2="550.00" stroke="#3a3a3a" stroke-width="1.3"/>
<line x1="46.40" y1="560.40" x2="46.40" y2="638.00" stroke="#3a3a3a" stroke-width="1.3"/>
<line x1="43.40" y1="560.40" x2="49.40" y2="560.40" stroke="#3a3a3a" stroke-width="1.3"/>
<line x1="45.90" y1="637.50" x2="169.20" y2="637.50" stroke="#3a3a3a" stroke-width="1.3"/>
<line x1="42.90" y1="516.60" x2="46.40" y2="516.60" stroke="#3a3a3a" stroke-width="1.3"/>
<text transform="translate(40.10,519.70) scale(1.0,1)" font-size="8.6" text-anchor="end" fill="#2f2f2f" stroke="#2f2f2f" stroke-width="0.0">500</text>
<line x1="42.90" y1="536.50" x2="46.40" y2="536.50" stroke="#3a3a3a" stroke-width="1.3"/>
<text transform="translate(40.10,539.60) scale(1.0,1)" font-size="8.6" text-anchor="end" fill="#2f2f2f" stroke="#2f2f2f" stroke-width="0.0">250</text>
<line x1="42.90" y1="560.40" x2="46.40" y2="560.40" stroke="#3a3a3a" stroke-width="1.3"/>
<text transform="translate(40.10,563.50) scale(1.0,1)" font-size="8.6" text-anchor="end" fill="#2f2f2f" stroke="#2f2f2f" stroke-width="0.0">80</text>
<line x1="42.90" y1="576.30" x2="46.40" y2="576.30" stroke="#3a3a3a" stroke-width="1.3"/>
<text transform="translate(40.10,579.40) scale(1.0,1)" font-size="8.6" text-anchor="end" fill="#2f2f2f" stroke="#2f2f2f" stroke-width="0.0">60</text>
<line x1="42.90" y1="591.40" x2="46.40" y2="591.40" stroke="#3a3a3a" stroke-width="1.3"/>
<text transform="translate(40.10,594.50) scale(1.0,1)" font-size="8.6" text-anchor="end" fill="#2f2f2f" stroke="#2f2f2f" stroke-width="0.0">40</text>
<line x1="42.90" y1="606.90" x2="46.40" y2="606.90" stroke="#3a3a3a" stroke-width="1.3"/>
<text transform="translate(40.10,610.00) scale(1.0,1)" font-size="8.6" text-anchor="end" fill="#2f2f2f" stroke="#2f2f2f" stroke-width="0.0">20</text>
<line x1="42.90" y1="622.00" x2="46.40" y2="622.00" stroke="#3a3a3a" stroke-width="1.3"/>
<text transform="translate(40.10,625.10) scale(1.0,1)" font-size="8.6" text-anchor="end" fill="#2f2f2f" stroke="#2f2f2f" stroke-width="0.0">0</text>
<line x1="42.90" y1="637.20" x2="46.40" y2="637.20" stroke="#3a3a3a" stroke-width="1.3"/>
<text transform="translate(40.10,640.30) scale(1.0,1)" font-size="8.6" text-anchor="end" fill="#2f2f2f" stroke="#2f2f2f" stroke-width="0.0">−20</text>
<line x1="66.40" y1="637.50" x2="66.40" y2="640.30" stroke="#3a3a3a" stroke-width="1.3"/>
<line x1="106.90" y1="637.50" x2="106.90" y2="640.30" stroke="#3a3a3a" stroke-width="1.3"/>
<line x1="147.50" y1="637.50" x2="147.50" y2="640.30" stroke="#3a3a3a" stroke-width="1.3"/>
<text transform="translate(66.40,650.80) scale(0.93,1)" font-size="8.6" text-anchor="middle" fill="#2a2a2a" stroke="#2a2a2a" stroke-width="0.12">HHV6+</text>
<text transform="translate(106.90,650.80) scale(0.93,1)" font-size="8.6" text-anchor="middle" fill="#2a2a2a" stroke="#2a2a2a" stroke-width="0.12">HHV6–</text>
<text transform="translate(147.60,650.80) scale(0.93,1)" font-size="8.6" text-anchor="middle" fill="#2a2a2a" stroke="#2a2a2a" stroke-width="0.12">HD</text>
<text transform="translate(66.40,660.74) scale(1.0,1)" font-size="7.6" text-anchor="middle" fill="#2a2a2a" stroke="#2a2a2a" stroke-width="0.12">n. = 68</text>
<text transform="translate(106.90,660.74) scale(1.0,1)" font-size="7.6" text-anchor="middle" fill="#2a2a2a" stroke="#2a2a2a" stroke-width="0.12">n. = 49</text>
<text transform="translate(147.60,660.74) scale(1.0,1)" font-size="7.6" text-anchor="middle" fill="#2a2a2a" stroke="#2a2a2a" stroke-width="0.12">n. = 33</text>
<text transform="translate(19.83,575.00) rotate(-90) scale(0.721,1)" font-size="8.7" letter-spacing="0.45" text-anchor="middle" fill="#2a2a2a" stroke="#2a2a2a" stroke-width="0.22"><tspan>HHV6 sfc/10</tspan><tspan font-size="6.26" dy="-2.96">5</tspan><tspan dy="2.96"> PBMC</tspan></text>
<polyline points="66.30,501.90 66.30,485.90 147.60,485.90 147.60,501.50" fill="none" stroke="#3a3a3a" stroke-width="1.2" stroke-linejoin="miter"/>
<polyline points="66.30,516.60 66.30,508.80 104.50,508.80 104.50,542.30" fill="none" stroke="#3a3a3a" stroke-width="1.2" stroke-linejoin="miter"/>
<polyline points="109.30,542.30 109.30,508.80 147.60,508.80 147.60,603.80" fill="none" stroke="#3a3a3a" stroke-width="1.2" stroke-linejoin="miter"/>
<circle cx="101.30" cy="480.60" r="1.15" fill="#151515"/>
<circle cx="105.10" cy="480.60" r="1.15" fill="#151515"/>
<circle cx="108.90" cy="480.60" r="1.15" fill="#151515"/>
<circle cx="112.70" cy="480.60" r="1.15" fill="#151515"/>
<circle cx="83.35" cy="503.40" r="1.15" fill="#151515"/>
<circle cx="87.25" cy="503.40" r="1.15" fill="#151515"/>
<text transform="translate(128.70,505.54) scale(1.0,1)" font-size="7.6" text-anchor="middle" fill="#444" stroke="#444" stroke-width="0.12">ns</text>
<path d="M67.00,561.00 C67.10,563.50 67.28,572.00 67.60,576.00 C67.92,580.00 68.57,581.83 68.90,585.00 C69.23,588.17 69.18,592.50 69.60,595.00 C70.02,597.50 70.77,598.00 71.40,600.00 C72.03,602.00 72.57,605.00 73.40,607.00 C74.23,609.00 75.40,610.33 76.40,612.00 C77.40,613.67 78.70,615.50 79.40,617.00 C80.10,618.50 80.60,619.92 80.60,621.00 C80.60,622.08 80.02,622.67 79.40,623.50 C78.78,624.33 77.90,625.17 76.90,626.00 C75.90,626.83 74.48,627.67 73.40,628.50 C72.32,629.33 71.27,630.17 70.40,631.00 C69.53,631.83 68.82,632.63 68.20,633.50 C67.58,634.37 67.05,635.75 66.70,636.20 C66.35,636.65 66.45,636.65 66.10,636.20 C65.75,635.75 65.22,634.37 64.60,633.50 C63.98,632.63 63.27,631.83 62.40,631.00 C61.53,630.17 60.48,629.33 59.40,628.50 C58.32,627.67 56.90,626.83 55.90,626.00 C54.90,625.17 54.02,624.33 53.40,623.50 C52.78,622.67 52.20,622.08 52.20,621.00 C52.20,619.92 52.70,618.50 53.40,617.00 C54.10,615.50 55.40,613.67 56.40,612.00 C57.40,610.33 58.57,609.00 59.40,607.00 C60.23,605.00 60.77,602.00 61.40,600.00 C62.03,598.00 62.78,597.50 63.20,595.00 C63.62,592.50 63.57,588.17 63.90,585.00 C64.23,581.83 64.88,580.00 65.20,576.00 C65.52,572.00 65.70,563.50 65.80,561.00Z" fill="#f1a293" stroke="#5a0e1a" stroke-width="0.8" stroke-linejoin="round"/>
<circle cx="66.40" cy="525.40" r="1.75" fill="#8e1428" stroke="#3a0510" stroke-width="0.6"/>
<circle cx="61.50" cy="535.10" r="1.75" fill="#8e1428" stroke="#3a0510" stroke-width="0.6"/>
<circle cx="66.40" cy="533.80" r="1.75" fill="#8e1428" stroke="#3a0510" stroke-width="0.6"/>
<circle cx="71.30" cy="534.00" r="1.75" fill="#8e1428" stroke="#3a0510" stroke-width="0.6"/>
<circle cx="64.00" cy="539.40" r="1.75" fill="#8e1428" stroke="#3a0510" stroke-width="0.6"/>
<circle cx="69.00" cy="537.70" r="1.75" fill="#8e1428" stroke="#3a0510" stroke-width="0.6"/>
<circle cx="66.40" cy="542.40" r="1.75" fill="#8e1428" stroke="#3a0510" stroke-width="0.6"/>
<circle cx="59.00" cy="546.30" r="1.75" fill="#8e1428" stroke="#3a0510" stroke-width="0.6"/>
<circle cx="59.00" cy="549.10" r="1.75" fill="#8e1428" stroke="#3a0510" stroke-width="0.6"/>
<circle cx="64.00" cy="547.40" r="1.75" fill="#8e1428" stroke="#3a0510" stroke-width="0.6"/>
<circle cx="68.80" cy="548.60" r="1.75" fill="#8e1428" stroke="#3a0510" stroke-width="0.6"/>
<circle cx="73.50" cy="548.30" r="1.75" fill="#8e1428" stroke="#3a0510" stroke-width="0.6"/>
<circle cx="66.40" cy="562.50" r="1.95" fill="#a3192f" stroke="#4a0612" stroke-width="0.55"/>
<circle cx="66.40" cy="569.80" r="1.95" fill="#a3192f" stroke="#4a0612" stroke-width="0.55"/>
<circle cx="66.40" cy="576.00" r="1.95" fill="#a3192f" stroke="#4a0612" stroke-width="0.55"/>
<circle cx="68.80" cy="582.10" r="1.95" fill="#a3192f" stroke="#4a0612" stroke-width="0.55"/>
<circle cx="64.00" cy="584.40" r="1.95" fill="#a3192f" stroke="#4a0612" stroke-width="0.55"/>
<circle cx="61.60" cy="588.10" r="1.95" fill="#a3192f" stroke="#4a0612" stroke-width="0.55"/>
<circle cx="66.40" cy="589.60" r="1.95" fill="#a3192f" stroke="#4a0612" stroke-width="0.55"/>
<circle cx="70.80" cy="588.60" r="1.95" fill="#a3192f" stroke="#4a0612" stroke-width="0.55"/>
<circle cx="71.30" cy="591.50" r="1.95" fill="#a3192f" stroke="#4a0612" stroke-width="0.55"/>
<circle cx="61.60" cy="593.40" r="1.95" fill="#a3192f" stroke="#4a0612" stroke-width="0.55"/>
<circle cx="56.60" cy="600.50" r="1.95" fill="#a3192f" stroke="#4a0612" stroke-width="0.55"/>
<circle cx="61.50" cy="600.50" r="1.95" fill="#a3192f" stroke="#4a0612" stroke-width="0.55"/>
<circle cx="66.40" cy="600.50" r="1.95" fill="#a3192f" stroke="#4a0612" stroke-width="0.55"/>
<circle cx="71.30" cy="600.50" r="1.95" fill="#a3192f" stroke="#4a0612" stroke-width="0.55"/>
<circle cx="76.20" cy="600.50" r="1.95" fill="#a3192f" stroke="#4a0612" stroke-width="0.55"/>
<circle cx="56.60" cy="606.50" r="1.95" fill="#a3192f" stroke="#4a0612" stroke-width="0.55"/>
<circle cx="61.50" cy="606.50" r="1.95" fill="#a3192f" stroke="#4a0612" stroke-width="0.55"/>
<circle cx="66.40" cy="606.50" r="1.95" fill="#a3192f" stroke="#4a0612" stroke-width="0.55"/>
<circle cx="71.30" cy="606.50" r="1.95" fill="#a3192f" stroke="#4a0612" stroke-width="0.55"/>
<circle cx="76.20" cy="606.50" r="1.95" fill="#a3192f" stroke="#4a0612" stroke-width="0.55"/>
<circle cx="56.90" cy="610.50" r="1.95" fill="#a3192f" stroke="#4a0612" stroke-width="0.55"/>
<circle cx="61.90" cy="610.50" r="1.95" fill="#a3192f" stroke="#4a0612" stroke-width="0.55"/>
<circle cx="66.90" cy="610.50" r="1.95" fill="#a3192f" stroke="#4a0612" stroke-width="0.55"/>
<circle cx="71.90" cy="610.50" r="1.95" fill="#a3192f" stroke="#4a0612" stroke-width="0.55"/>
<circle cx="76.90" cy="610.50" r="1.95" fill="#a3192f" stroke="#4a0612" stroke-width="0.55"/>
<circle cx="54.00" cy="612.00" r="1.95" fill="#a3192f" stroke="#4a0612" stroke-width="0.55"/>
<circle cx="79.00" cy="612.00" r="1.95" fill="#a3192f" stroke="#4a0612" stroke-width="0.55"/>
<circle cx="54.30" cy="613.80" r="1.95" fill="#a3192f" stroke="#4a0612" stroke-width="0.55"/>
<circle cx="58.90" cy="613.80" r="1.95" fill="#a3192f" stroke="#4a0612" stroke-width="0.55"/>
<circle cx="63.50" cy="613.80" r="1.95" fill="#a3192f" stroke="#4a0612" stroke-width="0.55"/>
<circle cx="68.10" cy="613.80" r="1.95" fill="#a3192f" stroke="#4a0612" stroke-width="0.55"/>
<circle cx="72.70" cy="613.80" r="1.95" fill="#a3192f" stroke="#4a0612" stroke-width="0.55"/>
<circle cx="77.30" cy="613.80" r="1.95" fill="#a3192f" stroke="#4a0612" stroke-width="0.55"/>
<circle cx="53.60" cy="617.00" r="1.95" fill="#a3192f" stroke="#4a0612" stroke-width="0.55"/>
<circle cx="58.00" cy="617.00" r="1.95" fill="#a3192f" stroke="#4a0612" stroke-width="0.55"/>
<circle cx="62.40" cy="617.00" r="1.95" fill="#a3192f" stroke="#4a0612" stroke-width="0.55"/>
<circle cx="66.80" cy="617.00" r="1.95" fill="#a3192f" stroke="#4a0612" stroke-width="0.55"/>
<circle cx="71.20" cy="617.00" r="1.95" fill="#a3192f" stroke="#4a0612" stroke-width="0.55"/>
<circle cx="75.60" cy="617.00" r="1.95" fill="#a3192f" stroke="#4a0612" stroke-width="0.55"/>
<circle cx="80.00" cy="617.00" r="1.95" fill="#a3192f" stroke="#4a0612" stroke-width="0.55"/>
<circle cx="53.20" cy="620.00" r="1.95" fill="#a3192f" stroke="#4a0612" stroke-width="0.55"/>
<circle cx="57.50" cy="620.00" r="1.95" fill="#a3192f" stroke="#4a0612" stroke-width="0.55"/>
<circle cx="61.80" cy="620.00" r="1.95" fill="#a3192f" stroke="#4a0612" stroke-width="0.55"/>
<circle cx="66.10" cy="620.00" r="1.95" fill="#a3192f" stroke="#4a0612" stroke-width="0.55"/>
<circle cx="70.40" cy="620.00" r="1.95" fill="#a3192f" stroke="#4a0612" stroke-width="0.55"/>
<circle cx="74.70" cy="620.00" r="1.95" fill="#a3192f" stroke="#4a0612" stroke-width="0.55"/>
<circle cx="79.00" cy="620.00" r="1.95" fill="#a3192f" stroke="#4a0612" stroke-width="0.55"/>
<circle cx="55.45" cy="622.60" r="1.95" fill="#a3192f" stroke="#4a0612" stroke-width="0.55"/>
<circle cx="59.95" cy="622.60" r="1.95" fill="#a3192f" stroke="#4a0612" stroke-width="0.55"/>
<circle cx="64.45" cy="622.60" r="1.95" fill="#a3192f" stroke="#4a0612" stroke-width="0.55"/>
<circle cx="68.95" cy="622.60" r="1.95" fill="#a3192f" stroke="#4a0612" stroke-width="0.55"/>
<circle cx="73.45" cy="622.60" r="1.95" fill="#a3192f" stroke="#4a0612" stroke-width="0.55"/>
<circle cx="77.95" cy="622.60" r="1.95" fill="#a3192f" stroke="#4a0612" stroke-width="0.55"/>
<path d="M107.60,560.50 C107.63,565.42 107.62,583.92 107.80,590.00 C107.98,596.08 108.35,594.67 108.70,597.00 C109.05,599.33 109.25,601.83 109.90,604.00 C110.55,606.17 111.65,608.17 112.60,610.00 C113.55,611.83 114.60,613.50 115.60,615.00 C116.60,616.50 117.93,617.92 118.60,619.00 C119.27,620.08 119.85,620.75 119.60,621.50 C119.35,622.25 118.27,622.83 117.10,623.50 C115.93,624.17 114.20,624.70 112.60,625.50 C111.00,626.30 108.48,627.83 107.50,628.30 C106.52,628.77 107.68,628.77 106.70,628.30 C105.72,627.83 103.20,626.30 101.60,625.50 C100.00,624.70 98.27,624.17 97.10,623.50 C95.93,622.83 94.85,622.25 94.60,621.50 C94.35,620.75 94.93,620.08 95.60,619.00 C96.27,617.92 97.60,616.50 98.60,615.00 C99.60,613.50 100.65,611.83 101.60,610.00 C102.55,608.17 103.65,606.17 104.30,604.00 C104.95,601.83 105.15,599.33 105.50,597.00 C105.85,594.67 106.22,596.08 106.40,590.00 C106.58,583.92 106.57,565.42 106.60,560.50Z" fill="#b5e0a0" stroke="#505a4e" stroke-width="0.7" stroke-linejoin="round"/>
<circle cx="107.10" cy="550.40" r="1.35" fill="#55624f" stroke="#2a2a2a" stroke-width="0.5"/>
<circle cx="107.10" cy="570.50" r="1.7" fill="#52a83f" stroke="#1a3315" stroke-width="0.55"/>
<circle cx="107.10" cy="576.20" r="1.7" fill="#52a83f" stroke="#1a3315" stroke-width="0.55"/>
<circle cx="104.30" cy="595.80" r="1.7" fill="#52a83f" stroke="#1a3315" stroke-width="0.55"/>
<circle cx="109.90" cy="595.80" r="1.7" fill="#52a83f" stroke="#1a3315" stroke-width="0.55"/>
<circle cx="112.00" cy="603.50" r="1.7" fill="#52a83f" stroke="#1a3315" stroke-width="0.55"/>
<circle cx="107.10" cy="606.20" r="1.7" fill="#52a83f" stroke="#1a3315" stroke-width="0.55"/>
<circle cx="102.50" cy="608.20" r="1.7" fill="#52a83f" stroke="#1a3315" stroke-width="0.55"/>
<circle cx="116.60" cy="608.20" r="1.7" fill="#52a83f" stroke="#1a3315" stroke-width="0.55"/>
<circle cx="97.50" cy="610.20" r="1.7" fill="#52a83f" stroke="#1a3315" stroke-width="0.55"/>
<circle cx="111.20" cy="611.50" r="1.7" fill="#52a83f" stroke="#1a3315" stroke-width="0.55"/>
<circle cx="97.50" cy="614.50" r="1.7" fill="#52a83f" stroke="#1a3315" stroke-width="0.55"/>
<circle cx="102.80" cy="614.00" r="1.7" fill="#52a83f" stroke="#1a3315" stroke-width="0.55"/>
<circle cx="116.60" cy="614.50" r="1.7" fill="#52a83f" stroke="#1a3315" stroke-width="0.55"/>
<circle cx="98.20" cy="618.00" r="1.7" fill="#52a83f" stroke="#1a3315" stroke-width="0.55"/>
<circle cx="102.80" cy="618.00" r="1.7" fill="#52a83f" stroke="#1a3315" stroke-width="0.55"/>
<circle cx="107.40" cy="618.00" r="1.7" fill="#52a83f" stroke="#1a3315" stroke-width="0.55"/>
<circle cx="112.00" cy="618.00" r="1.7" fill="#52a83f" stroke="#1a3315" stroke-width="0.55"/>
<circle cx="116.60" cy="618.00" r="1.7" fill="#52a83f" stroke="#1a3315" stroke-width="0.55"/>
<circle cx="94.50" cy="620.80" r="1.7" fill="#52a83f" stroke="#1a3315" stroke-width="0.55"/>
<circle cx="98.70" cy="620.80" r="1.7" fill="#52a83f" stroke="#1a3315" stroke-width="0.55"/>
<circle cx="102.90" cy="620.80" r="1.7" fill="#52a83f" stroke="#1a3315" stroke-width="0.55"/>
<circle cx="107.10" cy="620.80" r="1.7" fill="#52a83f" stroke="#1a3315" stroke-width="0.55"/>
<circle cx="111.30" cy="620.80" r="1.7" fill="#52a83f" stroke="#1a3315" stroke-width="0.55"/>
<circle cx="115.50" cy="620.80" r="1.7" fill="#52a83f" stroke="#1a3315" stroke-width="0.55"/>
<circle cx="119.70" cy="620.80" r="1.7" fill="#52a83f" stroke="#1a3315" stroke-width="0.55"/>
<circle cx="96.55" cy="623.20" r="1.7" fill="#52a83f" stroke="#1a3315" stroke-width="0.55"/>
<circle cx="100.85" cy="623.20" r="1.7" fill="#52a83f" stroke="#1a3315" stroke-width="0.55"/>
<circle cx="105.15" cy="623.20" r="1.7" fill="#52a83f" stroke="#1a3315" stroke-width="0.55"/>
<circle cx="109.45" cy="623.20" r="1.7" fill="#52a83f" stroke="#1a3315" stroke-width="0.55"/>
<circle cx="113.75" cy="623.20" r="1.7" fill="#52a83f" stroke="#1a3315" stroke-width="0.55"/>
<circle cx="118.05" cy="623.20" r="1.7" fill="#52a83f" stroke="#1a3315" stroke-width="0.55"/>
<path d="M148.10,610.50 C148.35,611.08 148.85,612.92 149.60,614.00 C150.35,615.08 151.27,616.08 152.60,617.00 C153.93,617.92 156.18,618.75 157.60,619.50 C159.02,620.25 161.10,620.87 161.10,621.50 C161.10,622.13 159.78,622.78 157.60,623.30 C155.42,623.82 149.73,624.38 148.00,624.60 C146.27,624.82 148.93,624.82 147.20,624.60 C145.47,624.38 139.78,623.82 137.60,623.30 C135.42,622.78 134.10,622.13 134.10,621.50 C134.10,620.87 136.18,620.25 137.60,619.50 C139.02,618.75 141.27,617.92 142.60,617.00 C143.93,616.08 144.85,615.08 145.60,614.00 C146.35,612.92 146.85,611.08 147.10,610.50Z" fill="#8f8cc6" stroke="#1b1a4e" stroke-width="0.8" stroke-linejoin="round"/>
<circle cx="147.60" cy="612.00" r="1.7" fill="#9c99d0" stroke="#1b1a4e" stroke-width="0.65"/>
<circle cx="144.50" cy="615.20" r="1.7" fill="#9c99d0" stroke="#1b1a4e" stroke-width="0.65"/>
<circle cx="150.80" cy="615.20" r="1.7" fill="#9c99d0" stroke="#1b1a4e" stroke-width="0.65"/>
<circle cx="147.60" cy="618.00" r="1.7" fill="#9c99d0" stroke="#1b1a4e" stroke-width="0.65"/>
<circle cx="140.00" cy="617.00" r="1.7" fill="#9c99d0" stroke="#1b1a4e" stroke-width="0.65"/>
<circle cx="155.20" cy="617.00" r="1.7" fill="#9c99d0" stroke="#1b1a4e" stroke-width="0.65"/>
<circle cx="138.60" cy="620.20" r="1.7" fill="#9c99d0" stroke="#1b1a4e" stroke-width="0.65"/>
<circle cx="143.20" cy="620.20" r="1.7" fill="#9c99d0" stroke="#1b1a4e" stroke-width="0.65"/>
<circle cx="147.80" cy="620.20" r="1.7" fill="#9c99d0" stroke="#1b1a4e" stroke-width="0.65"/>
<circle cx="152.40" cy="620.20" r="1.7" fill="#9c99d0" stroke="#1b1a4e" stroke-width="0.65"/>
<circle cx="157.00" cy="620.20" r="1.7" fill="#9c99d0" stroke="#1b1a4e" stroke-width="0.65"/>
<circle cx="135.00" cy="622.20" r="1.7" fill="#9c99d0" stroke="#1b1a4e" stroke-width="0.65"/>
<circle cx="139.20" cy="622.20" r="1.7" fill="#9c99d0" stroke="#1b1a4e" stroke-width="0.65"/>
<circle cx="143.40" cy="622.20" r="1.7" fill="#9c99d0" stroke="#1b1a4e" stroke-width="0.65"/>
<circle cx="147.60" cy="622.20" r="1.7" fill="#9c99d0" stroke="#1b1a4e" stroke-width="0.65"/>
<circle cx="151.80" cy="622.20" r="1.7" fill="#9c99d0" stroke="#1b1a4e" stroke-width="0.65"/>
<circle cx="156.00" cy="622.20" r="1.7" fill="#9c99d0" stroke="#1b1a4e" stroke-width="0.65"/>
<circle cx="160.20" cy="622.20" r="1.7" fill="#9c99d0" stroke="#1b1a4e" stroke-width="0.65"/>
<circle cx="135.50" cy="621.50" r="1.7" fill="#9c99d0" stroke="#1b1a4e" stroke-width="0.65"/>
<circle cx="159.70" cy="621.50" r="1.7" fill="#9c99d0" stroke="#1b1a4e" stroke-width="0.65"/>
<text transform="translate(194.60,468.22) scale(1.0,1)" font-size="12" text-anchor="middle" fill="#000" stroke="#000" stroke-width="0.0" font-weight="bold">F</text>
<line x1="223.80" y1="488.00" x2="223.80" y2="608.80" stroke="#3a3a3a" stroke-width="1.3"/>
<line x1="223.30" y1="608.50" x2="337.10" y2="608.50" stroke="#3a3a3a" stroke-width="1.3"/>
<line x1="220.30" y1="490.85" x2="223.80" y2="490.85" stroke="#3a3a3a" stroke-width="1.3"/>
<text transform="translate(217.50,493.95) scale(1.0,1)" font-size="8.6" text-anchor="end" fill="#2f2f2f" stroke="#2f2f2f" stroke-width="0.0">500</text>
<line x1="220.30" y1="512.60" x2="223.80" y2="512.60" stroke="#3a3a3a" stroke-width="1.3"/>
<text transform="translate(217.50,515.70) scale(1.0,1)" font-size="8.6" text-anchor="end" fill="#2f2f2f" stroke="#2f2f2f" stroke-width="0.0">400</text>
<line x1="220.30" y1="534.35" x2="223.80" y2="534.35" stroke="#3a3a3a" stroke-width="1.3"/>
<text transform="translate(217.50,537.45) scale(1.0,1)" font-size="8.6" text-anchor="end" fill="#2f2f2f" stroke="#2f2f2f" stroke-width="0.0">300</text>
<line x1="220.30" y1="556.10" x2="223.80" y2="556.10" stroke="#3a3a3a" stroke-width="1.3"/>
<text transform="translate(217.50,559.20) scale(1.0,1)" font-size="8.6" text-anchor="end" fill="#2f2f2f" stroke="#2f2f2f" stroke-width="0.0">200</text>
<line x1="220.30" y1="577.85" x2="223.80" y2="577.85" stroke="#3a3a3a" stroke-width="1.3"/>
<text transform="translate(217.50,580.95) scale(1.0,1)" font-size="8.6" text-anchor="end" fill="#2f2f2f" stroke="#2f2f2f" stroke-width="0.0">100</text>
<line x1="220.30" y1="599.60" x2="223.80" y2="599.60" stroke="#3a3a3a" stroke-width="1.3"/>
<text transform="translate(217.50,602.70) scale(1.0,1)" font-size="8.6" text-anchor="end" fill="#2f2f2f" stroke="#2f2f2f" stroke-width="0.0">0</text>
<line x1="254.00" y1="608.50" x2="254.00" y2="611.30" stroke="#3a3a3a" stroke-width="1.3"/>
<line x1="314.50" y1="608.50" x2="314.50" y2="611.30" stroke="#3a3a3a" stroke-width="1.3"/>
<text transform="translate(254.20,622.20) scale(0.93,1)" font-size="8.6" text-anchor="middle" fill="#2a2a2a" stroke="#2a2a2a" stroke-width="0.12">HHV6+</text>
<text transform="translate(254.20,632.50) scale(0.93,1)" font-size="8.6" text-anchor="middle" fill="#2a2a2a" stroke="#2a2a2a" stroke-width="0.12">Clinically</text>
<text transform="translate(254.20,642.30) scale(0.93,1)" font-size="8.6" text-anchor="middle" fill="#2a2a2a" stroke="#2a2a2a" stroke-width="0.12">Relevant</text>
<text transform="translate(314.50,622.20) scale(0.93,1)" font-size="8.6" text-anchor="middle" fill="#2a2a2a" stroke="#2a2a2a" stroke-width="0.12">HHV6+</text>
<text transform="translate(314.50,632.50) scale(0.93,1)" font-size="8.6" text-anchor="middle" fill="#2a2a2a" stroke="#2a2a2a" stroke-width="0.12">Not</text>
<text transform="translate(314.50,642.30) scale(0.93,1)" font-size="8.6" text-anchor="middle" fill="#2a2a2a" stroke="#2a2a2a" stroke-width="0.12">Relevant</text>
<text transform="translate(254.20,661.24) scale(1.0,1)" font-size="7.6" text-anchor="middle" fill="#2a2a2a" stroke="#2a2a2a" stroke-width="0.12">n. = 38</text>
<text transform="translate(314.50,661.24) scale(1.0,1)" font-size="7.6" text-anchor="middle" fill="#2a2a2a" stroke="#2a2a2a" stroke-width="0.12">n. = 30</text>
<text transform="translate(198.83,538.00) rotate(-90) scale(0.707,1)" font-size="8.7" letter-spacing="0.45" text-anchor="middle" fill="#2a2a2a" stroke="#2a2a2a" stroke-width="0.22"><tspan>HHV6 </tspan><tspan font-style="italic">sfc</tspan><tspan>/10</tspan><tspan font-size="6.26" dy="-2.96">5</tspan><tspan dy="2.96"> PBMC</tspan></text>
<polyline points="253.70,491.90 253.70,485.80 314.50,485.80 314.50,585.00" fill="none" stroke="#3a3a3a" stroke-width="1.2" stroke-linejoin="miter"/>
<circle cx="278.40" cy="479.60" r="1.15" fill="#151515"/>
<circle cx="282.13" cy="479.60" r="1.15" fill="#151515"/>
<circle cx="285.87" cy="479.60" r="1.15" fill="#151515"/>
<circle cx="289.60" cy="479.60" r="1.15" fill="#151515"/>
<path d="M254.20,498.40 C254.30,500.12 254.52,506.40 254.80,508.70 C255.08,511.00 255.93,510.62 255.90,512.20 C255.87,513.78 254.78,515.35 254.60,518.20 C254.42,521.05 254.23,526.45 254.80,529.30 C255.37,532.15 257.83,533.02 258.00,535.30 C258.17,537.58 256.18,540.28 255.80,543.00 C255.42,545.72 255.68,547.30 255.70,551.60 C255.72,555.90 255.57,565.23 255.90,568.80 C256.23,572.37 257.15,571.55 257.70,573.00 C258.25,574.45 258.53,576.00 259.20,577.50 C259.87,579.00 260.12,580.30 261.70,582.00 C263.28,583.70 266.87,585.87 268.70,587.70 C270.53,589.53 272.37,591.45 272.70,593.00 C273.03,594.55 271.87,595.75 270.70,597.00 C269.53,598.25 267.53,599.42 265.70,600.50 C263.87,601.58 261.37,602.58 259.70,603.50 C258.03,604.42 256.63,605.20 255.70,606.00 C254.77,606.80 254.50,607.92 254.10,608.30 C253.70,608.68 253.70,608.68 253.30,608.30 C252.90,607.92 252.63,606.80 251.70,606.00 C250.77,605.20 249.37,604.42 247.70,603.50 C246.03,602.58 243.53,601.58 241.70,600.50 C239.87,599.42 237.87,598.25 236.70,597.00 C235.53,595.75 234.37,594.55 234.70,593.00 C235.03,591.45 236.87,589.53 238.70,587.70 C240.53,585.87 244.12,583.70 245.70,582.00 C247.28,580.30 247.53,579.00 248.20,577.50 C248.87,576.00 249.15,574.45 249.70,573.00 C250.25,571.55 251.17,572.37 251.50,568.80 C251.83,565.23 251.68,555.90 251.70,551.60 C251.72,547.30 251.98,545.72 251.60,543.00 C251.22,540.28 249.23,537.58 249.40,535.30 C249.57,533.02 252.03,532.15 252.60,529.30 C253.17,526.45 252.98,521.05 252.80,518.20 C252.62,515.35 251.53,513.78 251.50,512.20 C251.47,510.62 252.32,511.00 252.60,508.70 C252.88,506.40 253.10,500.12 253.20,498.40Z" fill="#ef9f8f" stroke="#4a0a14" stroke-width="0.8" stroke-linejoin="round"/>
<circle cx="253.70" cy="512.20" r="1.75" fill="#8e1428" stroke="#3a0510" stroke-width="0.55"/>
<circle cx="251.50" cy="535.00" r="1.75" fill="#8e1428" stroke="#3a0510" stroke-width="0.55"/>
<circle cx="255.90" cy="535.00" r="1.75" fill="#8e1428" stroke="#3a0510" stroke-width="0.55"/>
<circle cx="253.70" cy="539.50" r="1.75" fill="#8e1428" stroke="#3a0510" stroke-width="0.55"/>
<circle cx="253.70" cy="546.50" r="1.75" fill="#8e1428" stroke="#3a0510" stroke-width="0.55"/>
<circle cx="253.70" cy="551.60" r="1.75" fill="#8e1428" stroke="#3a0510" stroke-width="0.55"/>
<circle cx="253.70" cy="561.00" r="1.75" fill="#8e1428" stroke="#3a0510" stroke-width="0.55"/>
<circle cx="253.80" cy="571.00" r="1.75" fill="#8e1428" stroke="#3a0510" stroke-width="0.55"/>
<circle cx="249.20" cy="577.30" r="1.75" fill="#8e1428" stroke="#3a0510" stroke-width="0.55"/>
<circle cx="258.40" cy="577.30" r="1.75" fill="#8e1428" stroke="#3a0510" stroke-width="0.55"/>
<circle cx="253.80" cy="577.90" r="1.75" fill="#8e1428" stroke="#3a0510" stroke-width="0.55"/>
<circle cx="253.80" cy="581.90" r="1.75" fill="#8e1428" stroke="#3a0510" stroke-width="0.55"/>
<circle cx="256.10" cy="584.80" r="1.75" fill="#8e1428" stroke="#3a0510" stroke-width="0.55"/>
<circle cx="251.50" cy="586.50" r="1.75" fill="#8e1428" stroke="#3a0510" stroke-width="0.55"/>
<circle cx="239.40" cy="588.30" r="1.75" fill="#8e1428" stroke="#3a0510" stroke-width="0.55"/>
<circle cx="268.30" cy="588.30" r="1.75" fill="#8e1428" stroke="#3a0510" stroke-width="0.55"/>
<circle cx="244.00" cy="590.60" r="1.75" fill="#8e1428" stroke="#3a0510" stroke-width="0.55"/>
<circle cx="248.90" cy="590.60" r="1.75" fill="#8e1428" stroke="#3a0510" stroke-width="0.55"/>
<circle cx="253.80" cy="590.60" r="1.75" fill="#8e1428" stroke="#3a0510" stroke-width="0.55"/>
<circle cx="258.70" cy="590.60" r="1.75" fill="#8e1428" stroke="#3a0510" stroke-width="0.55"/>
<circle cx="263.60" cy="590.60" r="1.75" fill="#8e1428" stroke="#3a0510" stroke-width="0.55"/>
<circle cx="236.50" cy="593.40" r="1.75" fill="#8e1428" stroke="#3a0510" stroke-width="0.55"/>
<circle cx="271.10" cy="593.40" r="1.75" fill="#8e1428" stroke="#3a0510" stroke-width="0.55"/>
<circle cx="238.30" cy="598.00" r="1.75" fill="#8e1428" stroke="#3a0510" stroke-width="0.55"/>
<circle cx="269.40" cy="598.00" r="1.75" fill="#8e1428" stroke="#3a0510" stroke-width="0.55"/>
<circle cx="241.80" cy="595.00" r="1.75" fill="#8e1428" stroke="#3a0510" stroke-width="0.55"/>
<circle cx="246.60" cy="595.00" r="1.75" fill="#8e1428" stroke="#3a0510" stroke-width="0.55"/>
<circle cx="251.40" cy="595.00" r="1.75" fill="#8e1428" stroke="#3a0510" stroke-width="0.55"/>
<circle cx="256.20" cy="595.00" r="1.75" fill="#8e1428" stroke="#3a0510" stroke-width="0.55"/>
<circle cx="261.00" cy="595.00" r="1.75" fill="#8e1428" stroke="#3a0510" stroke-width="0.55"/>
<circle cx="265.80" cy="595.00" r="1.75" fill="#8e1428" stroke="#3a0510" stroke-width="0.55"/>
<circle cx="246.45" cy="599.80" r="1.75" fill="#8e1428" stroke="#3a0510" stroke-width="0.55"/>
<circle cx="251.35" cy="599.80" r="1.75" fill="#8e1428" stroke="#3a0510" stroke-width="0.55"/>
<circle cx="256.25" cy="599.80" r="1.75" fill="#8e1428" stroke="#3a0510" stroke-width="0.55"/>
<circle cx="261.15" cy="599.80" r="1.75" fill="#8e1428" stroke="#3a0510" stroke-width="0.55"/>
<circle cx="242.00" cy="596.50" r="1.75" fill="#8e1428" stroke="#3a0510" stroke-width="0.55"/>
<circle cx="265.50" cy="596.50" r="1.75" fill="#8e1428" stroke="#3a0510" stroke-width="0.55"/>
<path d="M293.5,596.8 C297,596.3 303,598 308,597.6 C310.5,597.2 311,593.6 314.5,592.2 C318,593.6 318.5,597.2 321,597.6 C326,598 332,596.3 335.5,596.8 C334.5,599 327,600.4 314.5,601 C302,600.4 294.5,599 293.5,596.8 Z" fill="#1e3653" stroke="#0f223c" stroke-width="0.8"/>
<circle cx="312.80" cy="593.60" r="1.8" fill="#223c60" stroke="#0e1f38" stroke-width="0.45"/>
<circle cx="316.40" cy="593.80" r="1.8" fill="#223c60" stroke="#0e1f38" stroke-width="0.45"/>
<circle cx="314.50" cy="596.00" r="1.8" fill="#223c60" stroke="#0e1f38" stroke-width="0.45"/>
<circle cx="294.80" cy="596.80" r="1.8" fill="#223c60" stroke="#0e1f38" stroke-width="0.45"/>
<circle cx="334.20" cy="596.80" r="1.8" fill="#223c60" stroke="#0e1f38" stroke-width="0.45"/>
<circle cx="311.00" cy="598.00" r="1.8" fill="#223c60" stroke="#0e1f38" stroke-width="0.45"/>
<circle cx="318.00" cy="598.00" r="1.8" fill="#223c60" stroke="#0e1f38" stroke-width="0.45"/>
<circle cx="304.00" cy="598.80" r="1.8" fill="#223c60" stroke="#0e1f38" stroke-width="0.45"/>
<circle cx="325.00" cy="598.80" r="1.8" fill="#223c60" stroke="#0e1f38" stroke-width="0.45"/>
<text transform="translate(357.60,468.22) scale(1.0,1)" font-size="12" text-anchor="middle" fill="#000" stroke="#000" stroke-width="0.0" font-weight="bold">G</text>
<line x1="397.80" y1="492.20" x2="397.80" y2="515.90" stroke="#3a3a3a" stroke-width="1.3"/>
<line x1="394.80" y1="515.90" x2="400.80" y2="515.90" stroke="#3a3a3a" stroke-width="1.3"/>
<line x1="397.80" y1="525.60" x2="397.80" y2="608.80" stroke="#3a3a3a" stroke-width="1.3"/>
<line x1="394.80" y1="525.60" x2="400.80" y2="525.60" stroke="#3a3a3a" stroke-width="1.3"/>
<line x1="397.30" y1="608.60" x2="513.00" y2="608.60" stroke="#3a3a3a" stroke-width="1.3"/>
<line x1="394.30" y1="494.80" x2="397.80" y2="494.80" stroke="#3a3a3a" stroke-width="1.3"/>
<text transform="translate(391.50,497.90) scale(1.0,1)" font-size="8.6" text-anchor="end" fill="#2f2f2f" stroke="#2f2f2f" stroke-width="0.0">10000</text>
<line x1="394.30" y1="506.60" x2="397.80" y2="506.60" stroke="#3a3a3a" stroke-width="1.3"/>
<text transform="translate(391.50,509.70) scale(1.0,1)" font-size="8.6" text-anchor="end" fill="#2f2f2f" stroke="#2f2f2f" stroke-width="0.0">5000</text>
<line x1="394.30" y1="525.60" x2="397.80" y2="525.60" stroke="#3a3a3a" stroke-width="1.3"/>
<text transform="translate(391.50,528.70) scale(1.0,1)" font-size="8.6" text-anchor="end" fill="#2f2f2f" stroke="#2f2f2f" stroke-width="0.0">1500</text>
<line x1="394.30" y1="549.90" x2="397.80" y2="549.90" stroke="#3a3a3a" stroke-width="1.3"/>
<text transform="translate(391.50,553.00) scale(1.0,1)" font-size="8.6" text-anchor="end" fill="#2f2f2f" stroke="#2f2f2f" stroke-width="0.0">1000</text>
<line x1="394.30" y1="574.20" x2="397.80" y2="574.20" stroke="#3a3a3a" stroke-width="1.3"/>
<text transform="translate(391.50,577.30) scale(1.0,1)" font-size="8.6" text-anchor="end" fill="#2f2f2f" stroke="#2f2f2f" stroke-width="0.0">500</text>
<line x1="394.30" y1="598.50" x2="397.80" y2="598.50" stroke="#3a3a3a" stroke-width="1.3"/>
<text transform="translate(391.50,601.60) scale(1.0,1)" font-size="8.6" text-anchor="end" fill="#2f2f2f" stroke="#2f2f2f" stroke-width="0.0">0</text>
<line x1="426.80" y1="608.60" x2="426.80" y2="611.40" stroke="#3a3a3a" stroke-width="1.3"/>
<line x1="484.70" y1="608.60" x2="484.70" y2="611.40" stroke="#3a3a3a" stroke-width="1.3"/>
<text transform="translate(426.60,621.60) scale(0.93,1)" font-size="8.6" text-anchor="middle" fill="#2a2a2a" stroke="#2a2a2a" stroke-width="0.12">HHV6+</text>
<text transform="translate(426.60,632.30) scale(0.93,1)" font-size="8.6" text-anchor="middle" fill="#2a2a2a" stroke="#2a2a2a" stroke-width="0.12">Clinically</text>
<text transform="translate(426.60,642.20) scale(0.93,1)" font-size="8.6" text-anchor="middle" fill="#2a2a2a" stroke="#2a2a2a" stroke-width="0.12">Relevant</text>
<text transform="translate(484.70,621.60) scale(0.93,1)" font-size="8.6" text-anchor="middle" fill="#2a2a2a" stroke="#2a2a2a" stroke-width="0.12">HHV6+</text>
<text transform="translate(484.70,632.30) scale(0.93,1)" font-size="8.6" text-anchor="middle" fill="#2a2a2a" stroke="#2a2a2a" stroke-width="0.12">Not</text>
<text transform="translate(484.70,642.20) scale(0.93,1)" font-size="8.6" text-anchor="middle" fill="#2a2a2a" stroke="#2a2a2a" stroke-width="0.12">Relevant</text>
<text transform="translate(426.60,661.14) scale(1.0,1)" font-size="7.6" text-anchor="middle" fill="#2a2a2a" stroke="#2a2a2a" stroke-width="0.12">n. = 52</text>
<text transform="translate(484.70,661.14) scale(1.0,1)" font-size="7.6" text-anchor="middle" fill="#2a2a2a" stroke="#2a2a2a" stroke-width="0.12">n. = 78</text>
<text transform="translate(363.13,550.50) rotate(-90) scale(0.776,1)" font-size="8.7" letter-spacing="0.45" text-anchor="middle" fill="#2a2a2a" stroke="#2a2a2a" stroke-width="0.22"><tspan>CD3+ cells/µl (day +30)</tspan></text>
<polyline points="426.60,488.70 426.60,482.00 484.60,482.00 484.60,505.80" fill="none" stroke="#3a3a3a" stroke-width="1.2" stroke-linejoin="miter"/>
<text transform="translate(455.90,477.84) scale(1.0,1)" font-size="9" text-anchor="middle" fill="#2a2a2a" stroke="#2a2a2a" stroke-width="0.12">ns</text>
<line x1="426.80" y1="496.50" x2="426.80" y2="513.80" stroke="#4a1018" stroke-width="1.0"/>
<circle cx="426.80" cy="496.50" r="1.6" fill="#a3192f" stroke="#4a0612" stroke-width="0.5"/>
<circle cx="424.20" cy="513.80" r="1.6" fill="#a3192f" stroke="#4a0612" stroke-width="0.5"/>
<circle cx="429.20" cy="513.80" r="1.6" fill="#a3192f" stroke="#4a0612" stroke-width="0.5"/>
<path d="M427.30,525.40 C427.33,527.33 427.35,534.23 427.50,537.00 C427.65,539.77 427.63,540.35 428.20,542.00 C428.77,543.65 430.93,545.40 430.90,546.90 C430.87,548.40 428.55,549.32 428.00,551.00 C427.45,552.68 427.63,554.67 427.60,557.00 C427.57,559.33 427.48,562.88 427.80,565.00 C428.12,567.12 429.05,568.20 429.50,569.70 C429.95,571.20 430.23,572.62 430.50,574.00 C430.77,575.38 430.45,576.47 431.10,578.00 C431.75,579.53 432.77,581.45 434.40,583.20 C436.03,584.95 438.87,586.95 440.90,588.50 C442.93,590.05 445.77,591.25 446.60,592.50 C447.43,593.75 446.43,595.00 445.90,596.00 C445.37,597.00 444.57,597.75 443.40,598.50 C442.23,599.25 440.48,599.92 438.90,600.50 C437.32,601.08 435.40,601.53 433.90,602.00 C432.40,602.47 431.00,602.85 429.90,603.30 C428.80,603.75 427.87,604.47 427.30,604.70 C426.73,604.93 427.07,604.93 426.50,604.70 C425.93,604.47 425.00,603.75 423.90,603.30 C422.80,602.85 421.40,602.47 419.90,602.00 C418.40,601.53 416.48,601.08 414.90,600.50 C413.32,599.92 411.57,599.25 410.40,598.50 C409.23,597.75 408.43,597.00 407.90,596.00 C407.37,595.00 406.37,593.75 407.20,592.50 C408.03,591.25 410.87,590.05 412.90,588.50 C414.93,586.95 417.77,584.95 419.40,583.20 C421.03,581.45 422.05,579.53 422.70,578.00 C423.35,576.47 423.03,575.38 423.30,574.00 C423.57,572.62 423.85,571.20 424.30,569.70 C424.75,568.20 425.68,567.12 426.00,565.00 C426.32,562.88 426.23,559.33 426.20,557.00 C426.17,554.67 426.35,552.68 425.80,551.00 C425.25,549.32 422.93,548.40 422.90,546.90 C422.87,545.40 425.03,543.65 425.60,542.00 C426.17,540.35 426.15,539.77 426.30,537.00 C426.45,534.23 426.47,527.33 426.50,525.40Z" fill="#f0a79b" stroke="#4a0a14" stroke-width="0.8" stroke-linejoin="round"/>
<circle cx="426.90" cy="541.80" r="1.5" fill="#a3192f" stroke="#4a0612" stroke-width="0.5"/>
<circle cx="424.60" cy="546.90" r="1.5" fill="#a3192f" stroke="#4a0612" stroke-width="0.5"/>
<circle cx="429.20" cy="546.90" r="1.5" fill="#a3192f" stroke="#4a0612" stroke-width="0.5"/>
<circle cx="426.90" cy="551.80" r="1.5" fill="#a3192f" stroke="#4a0612" stroke-width="0.5"/>
<circle cx="426.90" cy="560.30" r="1.5" fill="#a3192f" stroke="#4a0612" stroke-width="0.5"/>
<circle cx="426.90" cy="569.70" r="1.5" fill="#a3192f" stroke="#4a0612" stroke-width="0.5"/>
<circle cx="425.00" cy="573.00" r="1.5" fill="#a3192f" stroke="#4a0612" stroke-width="0.5"/>
<circle cx="428.80" cy="573.00" r="1.5" fill="#a3192f" stroke="#4a0612" stroke-width="0.5"/>
<circle cx="426.90" cy="577.30" r="1.5" fill="#a3192f" stroke="#4a0612" stroke-width="0.5"/>
<circle cx="424.40" cy="580.20" r="1.5" fill="#a3192f" stroke="#4a0612" stroke-width="0.5"/>
<circle cx="429.40" cy="580.20" r="1.5" fill="#a3192f" stroke="#4a0612" stroke-width="0.5"/>
<circle cx="420.00" cy="583.00" r="1.5" fill="#a3192f" stroke="#4a0612" stroke-width="0.5"/>
<circle cx="433.80" cy="583.00" r="1.5" fill="#a3192f" stroke="#4a0612" stroke-width="0.5"/>
<circle cx="426.90" cy="584.50" r="1.5" fill="#a3192f" stroke="#4a0612" stroke-width="0.5"/>
<circle cx="415.90" cy="587.60" r="1.5" fill="#a3192f" stroke="#4a0612" stroke-width="0.5"/>
<circle cx="421.40" cy="587.60" r="1.5" fill="#a3192f" stroke="#4a0612" stroke-width="0.5"/>
<circle cx="426.90" cy="587.60" r="1.5" fill="#a3192f" stroke="#4a0612" stroke-width="0.5"/>
<circle cx="432.40" cy="587.60" r="1.5" fill="#a3192f" stroke="#4a0612" stroke-width="0.5"/>
<circle cx="437.90" cy="587.60" r="1.5" fill="#a3192f" stroke="#4a0612" stroke-width="0.5"/>
<circle cx="407.70" cy="591.00" r="1.5" fill="#a3192f" stroke="#4a0612" stroke-width="0.5"/>
<circle cx="412.50" cy="591.00" r="1.5" fill="#a3192f" stroke="#4a0612" stroke-width="0.5"/>
<circle cx="417.30" cy="591.00" r="1.5" fill="#a3192f" stroke="#4a0612" stroke-width="0.5"/>
<circle cx="422.10" cy="591.00" r="1.5" fill="#a3192f" stroke="#4a0612" stroke-width="0.5"/>
<circle cx="426.90" cy="591.00" r="1.5" fill="#a3192f" stroke="#4a0612" stroke-width="0.5"/>
<circle cx="431.70" cy="591.00" r="1.5" fill="#a3192f" stroke="#4a0612" stroke-width="0.5"/>
<circle cx="436.50" cy="591.00" r="1.5" fill="#a3192f" stroke="#4a0612" stroke-width="0.5"/>
<circle cx="441.30" cy="591.00" r="1.5" fill="#a3192f" stroke="#4a0612" stroke-width="0.5"/>
<circle cx="446.10" cy="591.00" r="1.5" fill="#a3192f" stroke="#4a0612" stroke-width="0.5"/>
<circle cx="410.40" cy="594.00" r="1.5" fill="#a3192f" stroke="#4a0612" stroke-width="0.5"/>
<circle cx="415.20" cy="594.00" r="1.5" fill="#a3192f" stroke="#4a0612" stroke-width="0.5"/>
<circle cx="420.00" cy="594.00" r="1.5" fill="#a3192f" stroke="#4a0612" stroke-width="0.5"/>
<circle cx="424.80" cy="594.00" r="1.5" fill="#a3192f" stroke="#4a0612" stroke-width="0.5"/>
<circle cx="429.60" cy="594.00" r="1.5" fill="#a3192f" stroke="#4a0612" stroke-width="0.5"/>
<circle cx="434.40" cy="594.00" r="1.5" fill="#a3192f" stroke="#4a0612" stroke-width="0.5"/>
<circle cx="439.20" cy="594.00" r="1.5" fill="#a3192f" stroke="#4a0612" stroke-width="0.5"/>
<circle cx="444.00" cy="594.00" r="1.5" fill="#a3192f" stroke="#4a0612" stroke-width="0.5"/>
<circle cx="408.90" cy="596.80" r="1.5" fill="#a3192f" stroke="#4a0612" stroke-width="0.5"/>
<circle cx="412.50" cy="596.80" r="1.5" fill="#a3192f" stroke="#4a0612" stroke-width="0.5"/>
<circle cx="416.10" cy="596.80" r="1.5" fill="#a3192f" stroke="#4a0612" stroke-width="0.5"/>
<circle cx="419.70" cy="596.80" r="1.5" fill="#a3192f" stroke="#4a0612" stroke-width="0.5"/>
<circle cx="423.30" cy="596.80" r="1.5" fill="#a3192f" stroke="#4a0612" stroke-width="0.5"/>
<circle cx="426.90" cy="596.80" r="1.5" fill="#a3192f" stroke="#4a0612" stroke-width="0.5"/>
<circle cx="430.50" cy="596.80" r="1.5" fill="#a3192f" stroke="#4a0612" stroke-width="0.5"/>
<circle cx="434.10" cy="596.80" r="1.5" fill="#a3192f" stroke="#4a0612" stroke-width="0.5"/>
<circle cx="437.70" cy="596.80" r="1.5" fill="#a3192f" stroke="#4a0612" stroke-width="0.5"/>
<circle cx="441.30" cy="596.80" r="1.5" fill="#a3192f" stroke="#4a0612" stroke-width="0.5"/>
<circle cx="444.90" cy="596.80" r="1.5" fill="#a3192f" stroke="#4a0612" stroke-width="0.5"/>
<circle cx="410.90" cy="598.80" r="1.5" fill="#a3192f" stroke="#4a0612" stroke-width="0.5"/>
<circle cx="414.50" cy="598.80" r="1.5" fill="#a3192f" stroke="#4a0612" stroke-width="0.5"/>
<circle cx="418.10" cy="598.80" r="1.5" fill="#a3192f" stroke="#4a0612" stroke-width="0.5"/>
<circle cx="421.70" cy="598.80" r="1.5" fill="#a3192f" stroke="#4a0612" stroke-width="0.5"/>
<circle cx="425.30" cy="598.80" r="1.5" fill="#a3192f" stroke="#4a0612" stroke-width="0.5"/>
<circle cx="428.90" cy="598.80" r="1.5" fill="#a3192f" stroke="#4a0612" stroke-width="0.5"/>
<circle cx="432.50" cy="598.80" r="1.5" fill="#a3192f" stroke="#4a0612" stroke-width="0.5"/>
<circle cx="436.10" cy="598.80" r="1.5" fill="#a3192f" stroke="#4a0612" stroke-width="0.5"/>
<circle cx="439.70" cy="598.80" r="1.5" fill="#a3192f" stroke="#4a0612" stroke-width="0.5"/>
<circle cx="443.30" cy="598.80" r="1.5" fill="#a3192f" stroke="#4a0612" stroke-width="0.5"/>
<circle cx="481.80" cy="513.80" r="1.35" fill="#1f3f73" stroke="#0b1f40" stroke-width="0.45"/>
<circle cx="485.60" cy="513.50" r="1.35" fill="#1f3f73" stroke="#0b1f40" stroke-width="0.45"/>
<circle cx="487.80" cy="513.20" r="1.35" fill="#1f3f73" stroke="#0b1f40" stroke-width="0.45"/>
<path d="M484.90,525.40 C484.93,531.17 484.97,553.57 485.10,560.00 C485.23,566.43 485.30,562.67 485.70,564.00 C486.10,565.33 486.78,566.08 487.50,568.00 C488.22,569.92 489.00,572.93 490.00,575.50 C491.00,578.07 491.92,581.25 493.50,583.40 C495.08,585.55 497.73,586.97 499.50,588.40 C501.27,589.83 503.52,590.73 504.10,592.00 C504.68,593.27 503.60,594.92 503.00,596.00 C502.40,597.08 501.67,597.75 500.50,598.50 C499.33,599.25 497.58,599.92 496.00,600.50 C494.42,601.08 492.50,601.50 491.00,602.00 C489.50,602.50 488.02,602.97 487.00,603.50 C485.98,604.03 485.38,604.92 484.90,605.20 C484.42,605.48 484.58,605.48 484.10,605.20 C483.62,604.92 483.02,604.03 482.00,603.50 C480.98,602.97 479.50,602.50 478.00,602.00 C476.50,601.50 474.58,601.08 473.00,600.50 C471.42,599.92 469.67,599.25 468.50,598.50 C467.33,597.75 466.60,597.08 466.00,596.00 C465.40,594.92 464.32,593.27 464.90,592.00 C465.48,590.73 467.73,589.83 469.50,588.40 C471.27,586.97 473.92,585.55 475.50,583.40 C477.08,581.25 478.00,578.07 479.00,575.50 C480.00,572.93 480.78,569.92 481.50,568.00 C482.22,566.08 482.90,565.33 483.30,564.00 C483.70,562.67 483.77,566.43 483.90,560.00 C484.03,553.57 484.07,531.17 484.10,525.40Z" fill="#a3b7dc" stroke="#15223a" stroke-width="0.75" stroke-linejoin="round"/>
<circle cx="484.50" cy="534.00" r="1.45" fill="#1f3f73" stroke="#0b1f40" stroke-width="0.45"/>
<circle cx="484.50" cy="547.30" r="1.45" fill="#1f3f73" stroke="#0b1f40" stroke-width="0.45"/>
<circle cx="484.50" cy="559.90" r="1.45" fill="#1f3f73" stroke="#0b1f40" stroke-width="0.45"/>
<circle cx="479.70" cy="566.70" r="1.45" fill="#1f3f73" stroke="#0b1f40" stroke-width="0.45"/>
<circle cx="488.80" cy="566.70" r="1.45" fill="#1f3f73" stroke="#0b1f40" stroke-width="0.45"/>
<circle cx="491.30" cy="569.60" r="1.45" fill="#1f3f73" stroke="#0b1f40" stroke-width="0.45"/>
<circle cx="477.30" cy="571.50" r="1.45" fill="#1f3f73" stroke="#0b1f40" stroke-width="0.45"/>
<circle cx="483.10" cy="571.50" r="1.45" fill="#1f3f73" stroke="#0b1f40" stroke-width="0.45"/>
<circle cx="487.40" cy="571.50" r="1.45" fill="#1f3f73" stroke="#0b1f40" stroke-width="0.45"/>
<circle cx="480.20" cy="574.90" r="1.45" fill="#1f3f73" stroke="#0b1f40" stroke-width="0.45"/>
<circle cx="484.50" cy="574.90" r="1.45" fill="#1f3f73" stroke="#0b1f40" stroke-width="0.45"/>
<circle cx="489.30" cy="574.90" r="1.45" fill="#1f3f73" stroke="#0b1f40" stroke-width="0.45"/>
<circle cx="488.80" cy="577.30" r="1.45" fill="#1f3f73" stroke="#0b1f40" stroke-width="0.45"/>
<circle cx="475.30" cy="580.20" r="1.45" fill="#1f3f73" stroke="#0b1f40" stroke-width="0.45"/>
<circle cx="479.90" cy="580.20" r="1.45" fill="#1f3f73" stroke="#0b1f40" stroke-width="0.45"/>
<circle cx="484.50" cy="580.20" r="1.45" fill="#1f3f73" stroke="#0b1f40" stroke-width="0.45"/>
<circle cx="489.10" cy="580.20" r="1.45" fill="#1f3f73" stroke="#0b1f40" stroke-width="0.45"/>
<circle cx="493.70" cy="580.20" r="1.45" fill="#1f3f73" stroke="#0b1f40" stroke-width="0.45"/>
<circle cx="470.55" cy="583.10" r="1.45" fill="#1f3f73" stroke="#0b1f40" stroke-width="0.45"/>
<circle cx="475.20" cy="583.10" r="1.45" fill="#1f3f73" stroke="#0b1f40" stroke-width="0.45"/>
<circle cx="479.85" cy="583.10" r="1.45" fill="#1f3f73" stroke="#0b1f40" stroke-width="0.45"/>
<circle cx="484.50" cy="583.10" r="1.45" fill="#1f3f73" stroke="#0b1f40" stroke-width="0.45"/>
<circle cx="489.15" cy="583.10" r="1.45" fill="#1f3f73" stroke="#0b1f40" stroke-width="0.45"/>
<circle cx="493.80" cy="583.10" r="1.45" fill="#1f3f73" stroke="#0b1f40" stroke-width="0.45"/>
<circle cx="498.45" cy="583.10" r="1.45" fill="#1f3f73" stroke="#0b1f40" stroke-width="0.45"/>
<circle cx="477.60" cy="585.50" r="1.45" fill="#1f3f73" stroke="#0b1f40" stroke-width="0.45"/>
<circle cx="482.20" cy="585.50" r="1.45" fill="#1f3f73" stroke="#0b1f40" stroke-width="0.45"/>
<circle cx="486.80" cy="585.50" r="1.45" fill="#1f3f73" stroke="#0b1f40" stroke-width="0.45"/>
<circle cx="491.40" cy="585.50" r="1.45" fill="#1f3f73" stroke="#0b1f40" stroke-width="0.45"/>
<circle cx="496.00" cy="585.50" r="1.45" fill="#1f3f73" stroke="#0b1f40" stroke-width="0.45"/>
<circle cx="466.30" cy="588.40" r="1.45" fill="#1f3f73" stroke="#0b1f40" stroke-width="0.45"/>
<circle cx="470.85" cy="588.40" r="1.45" fill="#1f3f73" stroke="#0b1f40" stroke-width="0.45"/>
<circle cx="475.40" cy="588.40" r="1.45" fill="#1f3f73" stroke="#0b1f40" stroke-width="0.45"/>
<circle cx="479.95" cy="588.40" r="1.45" fill="#1f3f73" stroke="#0b1f40" stroke-width="0.45"/>
<circle cx="484.50" cy="588.40" r="1.45" fill="#1f3f73" stroke="#0b1f40" stroke-width="0.45"/>
<circle cx="489.05" cy="588.40" r="1.45" fill="#1f3f73" stroke="#0b1f40" stroke-width="0.45"/>
<circle cx="493.60" cy="588.40" r="1.45" fill="#1f3f73" stroke="#0b1f40" stroke-width="0.45"/>
<circle cx="498.15" cy="588.40" r="1.45" fill="#1f3f73" stroke="#0b1f40" stroke-width="0.45"/>
<circle cx="502.70" cy="588.40" r="1.45" fill="#1f3f73" stroke="#0b1f40" stroke-width="0.45"/>
<circle cx="468.50" cy="591.30" r="1.45" fill="#1f3f73" stroke="#0b1f40" stroke-width="0.45"/>
<circle cx="473.05" cy="591.30" r="1.45" fill="#1f3f73" stroke="#0b1f40" stroke-width="0.45"/>
<circle cx="477.60" cy="591.30" r="1.45" fill="#1f3f73" stroke="#0b1f40" stroke-width="0.45"/>
<circle cx="482.15" cy="591.30" r="1.45" fill="#1f3f73" stroke="#0b1f40" stroke-width="0.45"/>
<circle cx="486.70" cy="591.30" r="1.45" fill="#1f3f73" stroke="#0b1f40" stroke-width="0.45"/>
<circle cx="491.25" cy="591.30" r="1.45" fill="#1f3f73" stroke="#0b1f40" stroke-width="0.45"/>
<circle cx="495.80" cy="591.30" r="1.45" fill="#1f3f73" stroke="#0b1f40" stroke-width="0.45"/>
<circle cx="500.35" cy="591.30" r="1.45" fill="#1f3f73" stroke="#0b1f40" stroke-width="0.45"/>
<circle cx="504.90" cy="591.30" r="1.45" fill="#1f3f73" stroke="#0b1f40" stroke-width="0.45"/>
<circle cx="466.90" cy="593.70" r="1.45" fill="#1f3f73" stroke="#0b1f40" stroke-width="0.45"/>
<circle cx="471.30" cy="593.70" r="1.45" fill="#1f3f73" stroke="#0b1f40" stroke-width="0.45"/>
<circle cx="475.70" cy="593.70" r="1.45" fill="#1f3f73" stroke="#0b1f40" stroke-width="0.45"/>
<circle cx="480.10" cy="593.70" r="1.45" fill="#1f3f73" stroke="#0b1f40" stroke-width="0.45"/>
<circle cx="484.50" cy="593.70" r="1.45" fill="#1f3f73" stroke="#0b1f40" stroke-width="0.45"/>
<circle cx="488.90" cy="593.70" r="1.45" fill="#1f3f73" stroke="#0b1f40" stroke-width="0.45"/>
<circle cx="493.30" cy="593.70" r="1.45" fill="#1f3f73" stroke="#0b1f40" stroke-width="0.45"/>
<circle cx="497.70" cy="593.70" r="1.45" fill="#1f3f73" stroke="#0b1f40" stroke-width="0.45"/>
<circle cx="502.10" cy="593.70" r="1.45" fill="#1f3f73" stroke="#0b1f40" stroke-width="0.45"/>
<circle cx="466.50" cy="596.20" r="1.45" fill="#1f3f73" stroke="#0b1f40" stroke-width="0.45"/>
<circle cx="470.10" cy="596.20" r="1.45" fill="#1f3f73" stroke="#0b1f40" stroke-width="0.45"/>
<circle cx="473.70" cy="596.20" r="1.45" fill="#1f3f73" stroke="#0b1f40" stroke-width="0.45"/>
<circle cx="477.30" cy="596.20" r="1.45" fill="#1f3f73" stroke="#0b1f40" stroke-width="0.45"/>
<circle cx="480.90" cy="596.20" r="1.45" fill="#1f3f73" stroke="#0b1f40" stroke-width="0.45"/>
<circle cx="484.50" cy="596.20" r="1.45" fill="#1f3f73" stroke="#0b1f40" stroke-width="0.45"/>
<circle cx="488.10" cy="596.20" r="1.45" fill="#1f3f73" stroke="#0b1f40" stroke-width="0.45"/>
<circle cx="491.70" cy="596.20" r="1.45" fill="#1f3f73" stroke="#0b1f40" stroke-width="0.45"/>
<circle cx="495.30" cy="596.20" r="1.45" fill="#1f3f73" stroke="#0b1f40" stroke-width="0.45"/>
<circle cx="498.90" cy="596.20" r="1.45" fill="#1f3f73" stroke="#0b1f40" stroke-width="0.45"/>
<circle cx="502.50" cy="596.20" r="1.45" fill="#1f3f73" stroke="#0b1f40" stroke-width="0.45"/>
<circle cx="471.20" cy="598.20" r="1.45" fill="#1f3f73" stroke="#0b1f40" stroke-width="0.45"/>
<circle cx="474.90" cy="598.20" r="1.45" fill="#1f3f73" stroke="#0b1f40" stroke-width="0.45"/>
<circle cx="478.60" cy="598.20" r="1.45" fill="#1f3f73" stroke="#0b1f40" stroke-width="0.45"/>
<circle cx="482.30" cy="598.20" r="1.45" fill="#1f3f73" stroke="#0b1f40" stroke-width="0.45"/>
<circle cx="486.00" cy="598.20" r="1.45" fill="#1f3f73" stroke="#0b1f40" stroke-width="0.45"/>
<circle cx="489.70" cy="598.20" r="1.45" fill="#1f3f73" stroke="#0b1f40" stroke-width="0.45"/>
<circle cx="493.40" cy="598.20" r="1.45" fill="#1f3f73" stroke="#0b1f40" stroke-width="0.45"/>
<circle cx="497.10" cy="598.20" r="1.45" fill="#1f3f73" stroke="#0b1f40" stroke-width="0.45"/>
<circle cx="500.80" cy="598.20" r="1.45" fill="#1f3f73" stroke="#0b1f40" stroke-width="0.45"/>
</svg></body></html>
